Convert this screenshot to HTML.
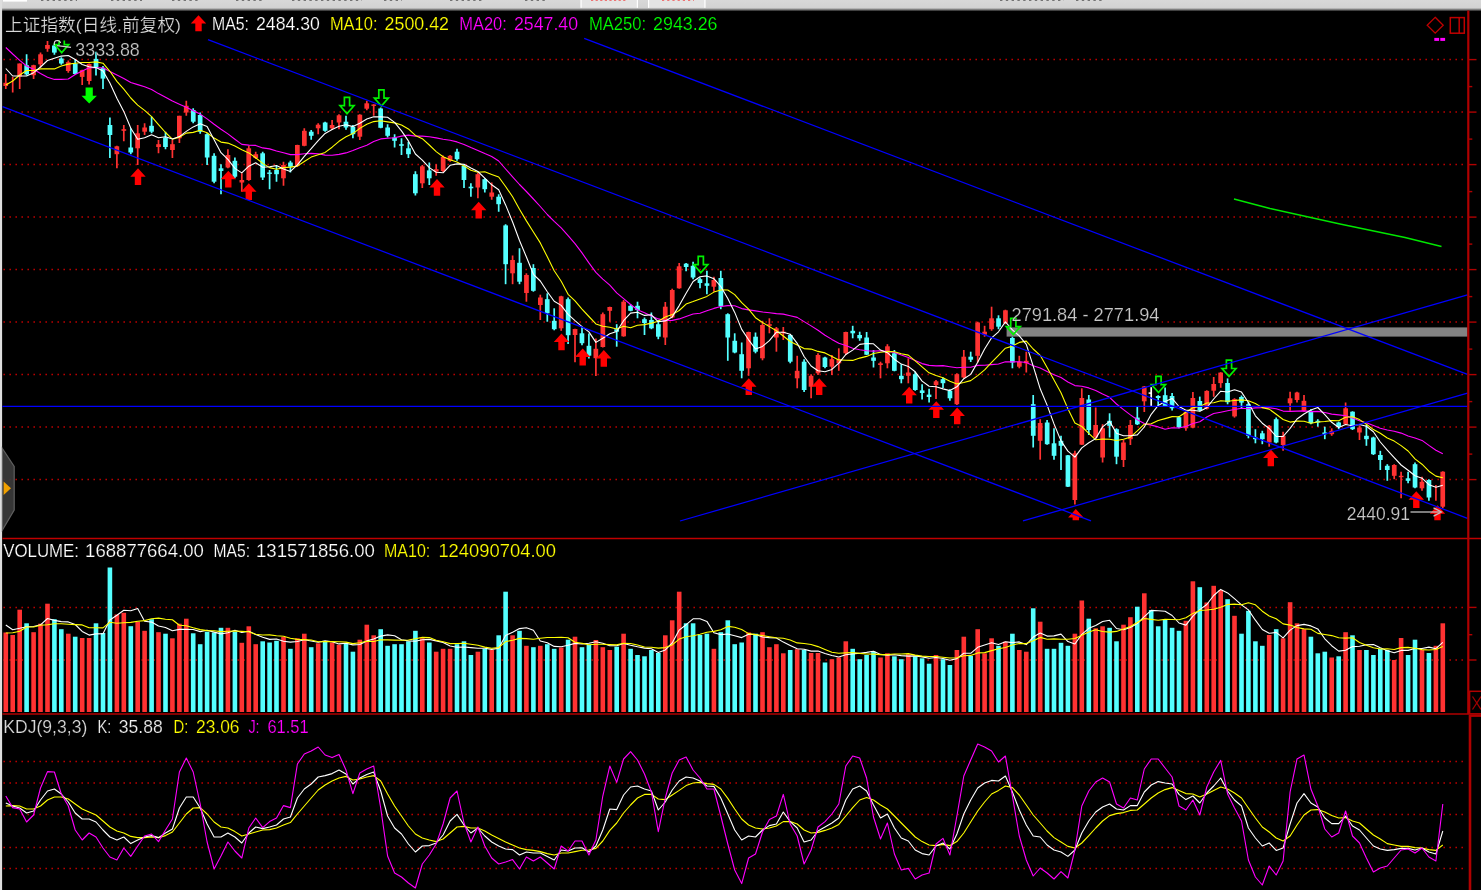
<!DOCTYPE html><html><head><meta charset="utf-8"><title>chart</title><style>html,body{margin:0;padding:0;background:#000;overflow:hidden}svg{display:block}</style></head><body><svg width="1481" height="890" viewBox="0 0 1481 890" style="display:block;will-change:transform;font-family:'Liberation Sans','Noto Sans CJK SC',sans-serif">
<defs><linearGradient id="tg" x1="0" y1="0" x2="0" y2="1"><stop offset="0" stop-color="#d8d8d8"/><stop offset="0.66" stop-color="#d2d2d2"/><stop offset="0.8" stop-color="#7a7a7a"/><stop offset="0.96" stop-color="#000"/></linearGradient>
<clipPath id="mc"><rect x="0" y="40.5" width="1468" height="479.7"/></clipPath></defs>
<rect width="1481" height="890" fill="#000"/>
<rect x="0" y="0" width="1481" height="12" fill="url(#tg)"/>
<rect x="3" y="0" width="24" height="1.6" fill="#fff"/>
<line x1="41" y1="0.3" x2="77" y2="0.3" stroke="#333" stroke-width="1" stroke-dasharray="2.4 3.4" opacity=".75"/>
<line x1="111" y1="0.3" x2="142" y2="0.3" stroke="#333" stroke-width="1" stroke-dasharray="2.4 3.4" opacity=".75"/>
<line x1="172" y1="0.3" x2="198" y2="0.3" stroke="#333" stroke-width="1" stroke-dasharray="2.4 3.4" opacity=".75"/>
<line x1="236" y1="0.3" x2="262" y2="0.3" stroke="#333" stroke-width="1" stroke-dasharray="2.4 3.4" opacity=".75"/>
<line x1="292" y1="0.3" x2="362" y2="0.3" stroke="#333" stroke-width="1" stroke-dasharray="2.4 3.4" opacity=".75"/>
<line x1="384" y1="0.3" x2="402" y2="0.3" stroke="#333" stroke-width="1" stroke-dasharray="2.4 3.4" opacity=".75"/>
<line x1="450" y1="0.3" x2="484" y2="0.3" stroke="#333" stroke-width="1" stroke-dasharray="2.4 3.4" opacity=".75"/>
<line x1="525" y1="0.3" x2="548" y2="0.3" stroke="#333" stroke-width="1" stroke-dasharray="2.4 3.4" opacity=".75"/>
<line x1="1000" y1="0.3" x2="1064" y2="0.3" stroke="#333" stroke-width="1" stroke-dasharray="2.4 3.4" opacity=".75"/>
<line x1="1076" y1="0.3" x2="1102" y2="0.3" stroke="#333" stroke-width="1" stroke-dasharray="2.4 3.4" opacity=".75"/>
<rect x="580.5" y="0" width="57.5" height="7.8" fill="#e4e4e4"/><rect x="648" y="0" width="57.5" height="7.8" fill="#e4e4e4"/>
<rect x="580.5" y="0" width="1.2" height="7.8" fill="#fff"/><rect x="636.8" y="0" width="1.2" height="7.8" fill="#fff"/><rect x="648" y="0" width="1.2" height="7.8" fill="#fff"/><rect x="704.3" y="0" width="1.2" height="7.8" fill="#fff"/>
<line x1="591" y1="0.3" x2="626" y2="0.3" stroke="#f04848" stroke-width="0.9" stroke-dasharray="2.2 2.4"/><line x1="662" y1="0.3" x2="694" y2="0.3" stroke="#f04848" stroke-width="0.9" stroke-dasharray="2.2 3"/>
<rect x="0" y="0" width="2.1" height="890" fill="#dedede"/>
<line x1="3.45" y1="59.6" x2="1464" y2="59.6" stroke="#c40000" stroke-width="1.5" stroke-dasharray="1.5 4.5"/>
<line x1="3.45" y1="112.1" x2="1464" y2="112.1" stroke="#c40000" stroke-width="1.5" stroke-dasharray="1.5 4.5"/>
<line x1="3.45" y1="164.6" x2="1464" y2="164.6" stroke="#c40000" stroke-width="1.5" stroke-dasharray="1.5 4.5"/>
<line x1="3.45" y1="217.1" x2="1464" y2="217.1" stroke="#c40000" stroke-width="1.5" stroke-dasharray="1.5 4.5"/>
<line x1="3.45" y1="269.6" x2="1464" y2="269.6" stroke="#c40000" stroke-width="1.5" stroke-dasharray="1.5 4.5"/>
<line x1="3.45" y1="322.1" x2="1464" y2="322.1" stroke="#c40000" stroke-width="1.5" stroke-dasharray="1.5 4.5"/>
<line x1="3.45" y1="374.6" x2="1464" y2="374.6" stroke="#c40000" stroke-width="1.5" stroke-dasharray="1.5 4.5"/>
<line x1="3.45" y1="427.1" x2="1464" y2="427.1" stroke="#c40000" stroke-width="1.5" stroke-dasharray="1.5 4.5"/>
<line x1="3.45" y1="479.6" x2="1464" y2="479.6" stroke="#c40000" stroke-width="1.5" stroke-dasharray="1.5 4.5"/>
<line x1="3.45" y1="607.4" x2="1464" y2="607.4" stroke="#c40000" stroke-width="1.5" stroke-dasharray="1.5 4.5"/>
<line x1="3.45" y1="660" x2="1464" y2="660" stroke="#c40000" stroke-width="1.5" stroke-dasharray="1.5 4.5"/>
<line x1="3.45" y1="761.6" x2="1464" y2="761.6" stroke="#c40000" stroke-width="1.5" stroke-dasharray="1.5 4.5"/>
<line x1="3.45" y1="783" x2="1464" y2="783" stroke="#c40000" stroke-width="1.5" stroke-dasharray="1.5 4.5"/>
<line x1="3.45" y1="814.6" x2="1464" y2="814.6" stroke="#c40000" stroke-width="1.5" stroke-dasharray="1.5 4.5"/>
<line x1="3.45" y1="847.6" x2="1464" y2="847.6" stroke="#c40000" stroke-width="1.5" stroke-dasharray="1.5 4.5"/>
<line x1="3.45" y1="868.6" x2="1464" y2="868.6" stroke="#c40000" stroke-width="1.5" stroke-dasharray="1.5 4.5"/>
<rect x="1011.5" y="305" width="150" height="19.5" fill="#000"/>
<rect x="1006.6" y="327.4" width="461" height="9.2" fill="#828282"/>
<g clip-path="url(#mc)">
<line x1="5.8" y1="74" x2="5.8" y2="89" stroke="#ff3232" stroke-width="1.7"/>
<rect x="3.4" y="82.8" width="4.7" height="3.2" fill="#ff3232"/>
<line x1="12.7" y1="76.9" x2="12.7" y2="92.4" stroke="#ff3232" stroke-width="1.7"/>
<line x1="19.7" y1="63.5" x2="19.7" y2="89" stroke="#ff3232" stroke-width="1.7"/>
<rect x="17.3" y="63.5" width="4.7" height="13" fill="#ff3232"/>
<line x1="26.6" y1="54.3" x2="26.6" y2="75.6" stroke="#54ffff" stroke-width="1.7"/>
<rect x="24.3" y="65.2" width="4.7" height="9.2" fill="#54ffff"/>
<line x1="33.6" y1="64.8" x2="33.6" y2="79" stroke="#ff3232" stroke-width="1.7"/>
<rect x="31.2" y="65.2" width="4.7" height="10" fill="#ff3232"/>
<line x1="40.5" y1="52.6" x2="40.5" y2="67.7" stroke="#ff3232" stroke-width="1.7"/>
<rect x="38.2" y="54.3" width="4.7" height="10" fill="#ff3232"/>
<line x1="47.5" y1="40.9" x2="47.5" y2="51.8" stroke="#ff3232" stroke-width="1.7"/>
<rect x="45.1" y="45" width="4.7" height="3.8" fill="#ff3232"/>
<line x1="54.4" y1="43.8" x2="54.4" y2="54.7" stroke="#54ffff" stroke-width="1.7"/>
<rect x="52" y="45.5" width="4.7" height="7.1" fill="#54ffff"/>
<line x1="61.3" y1="57.2" x2="61.3" y2="64.8" stroke="#54ffff" stroke-width="1.7"/>
<rect x="59" y="58.5" width="4.7" height="5" fill="#54ffff"/>
<line x1="68.3" y1="60.6" x2="68.3" y2="72.7" stroke="#ff3232" stroke-width="1.7"/>
<rect x="65.9" y="62.2" width="4.7" height="8.8" fill="#ff3232"/>
<line x1="75.2" y1="58.9" x2="75.2" y2="74.4" stroke="#54ffff" stroke-width="1.7"/>
<rect x="72.9" y="63.5" width="4.7" height="10.5" fill="#54ffff"/>
<line x1="82.2" y1="69.8" x2="82.2" y2="84.9" stroke="#ff3232" stroke-width="1.7"/>
<rect x="79.8" y="70.2" width="4.7" height="6.7" fill="#ff3232"/>
<line x1="89.1" y1="63.5" x2="89.1" y2="84.4" stroke="#ff3232" stroke-width="1.7"/>
<rect x="86.8" y="63.9" width="4.7" height="17.1" fill="#ff3232"/>
<line x1="96" y1="51.8" x2="96" y2="75.6" stroke="#54ffff" stroke-width="1.7"/>
<rect x="93.7" y="58.9" width="4.7" height="8.8" fill="#54ffff"/>
<line x1="103" y1="66" x2="103" y2="89" stroke="#54ffff" stroke-width="1.7"/>
<rect x="100.6" y="67.7" width="4.7" height="10.9" fill="#54ffff"/>
<line x1="109.9" y1="117.5" x2="109.9" y2="158" stroke="#54ffff" stroke-width="1.7"/>
<rect x="107.6" y="125" width="4.7" height="10" fill="#54ffff"/>
<line x1="116.9" y1="145.8" x2="116.9" y2="168.3" stroke="#ff3232" stroke-width="1.7"/>
<rect x="114.5" y="146.3" width="4.7" height="7.9" fill="#ff3232"/>
<line x1="123.8" y1="125" x2="123.8" y2="141.3" stroke="#ff3232" stroke-width="1.7"/>
<rect x="121.5" y="129.2" width="4.7" height="1.6" fill="#ff3232"/>
<line x1="130.8" y1="128.3" x2="130.8" y2="154.2" stroke="#54ffff" stroke-width="1.7"/>
<rect x="128.4" y="147.5" width="4.7" height="5" fill="#54ffff"/>
<line x1="137.7" y1="125" x2="137.7" y2="165" stroke="#ff3232" stroke-width="1.7"/>
<rect x="135.3" y="133.3" width="4.7" height="15" fill="#ff3232"/>
<line x1="144.6" y1="123.3" x2="144.6" y2="135" stroke="#ff3232" stroke-width="1.7"/>
<rect x="142.3" y="127.5" width="4.7" height="4.2" fill="#ff3232"/>
<line x1="151.6" y1="116.7" x2="151.6" y2="133.3" stroke="#54ffff" stroke-width="1.7"/>
<rect x="149.2" y="125.8" width="4.7" height="5.9" fill="#54ffff"/>
<line x1="158.5" y1="140" x2="158.5" y2="153.3" stroke="#ff3232" stroke-width="1.7"/>
<rect x="156.2" y="144.2" width="4.7" height="2.8" fill="#ff3232"/>
<line x1="165.5" y1="131.7" x2="165.5" y2="149.2" stroke="#54ffff" stroke-width="1.7"/>
<rect x="163.1" y="137.5" width="4.7" height="9.5" fill="#54ffff"/>
<line x1="172.4" y1="140" x2="172.4" y2="158" stroke="#ff3232" stroke-width="1.7"/>
<rect x="170.1" y="144.2" width="4.7" height="5.8" fill="#ff3232"/>
<line x1="179.4" y1="115.8" x2="179.4" y2="143" stroke="#ff3232" stroke-width="1.7"/>
<rect x="177" y="115.8" width="4.7" height="22.5" fill="#ff3232"/>
<line x1="186.3" y1="100.8" x2="186.3" y2="115.8" stroke="#ff3232" stroke-width="1.7"/>
<rect x="183.9" y="105.8" width="4.7" height="6.7" fill="#ff3232"/>
<line x1="193.2" y1="108.3" x2="193.2" y2="123.3" stroke="#54ffff" stroke-width="1.7"/>
<rect x="190.9" y="110" width="4.7" height="11.7" fill="#54ffff"/>
<line x1="200.2" y1="112.5" x2="200.2" y2="133.7" stroke="#54ffff" stroke-width="1.7"/>
<rect x="197.8" y="115" width="4.7" height="16.7" fill="#54ffff"/>
<line x1="207.1" y1="133.3" x2="207.1" y2="165" stroke="#54ffff" stroke-width="1.7"/>
<rect x="204.8" y="134.2" width="4.7" height="23.3" fill="#54ffff"/>
<line x1="214.1" y1="153.3" x2="214.1" y2="183.3" stroke="#54ffff" stroke-width="1.7"/>
<rect x="211.7" y="155.8" width="4.7" height="25.9" fill="#54ffff"/>
<line x1="221" y1="164.2" x2="221" y2="194.2" stroke="#54ffff" stroke-width="1.7"/>
<rect x="218.7" y="168.3" width="4.7" height="2.7" fill="#54ffff"/>
<line x1="227.9" y1="149.2" x2="227.9" y2="168.3" stroke="#ff3232" stroke-width="1.7"/>
<rect x="225.6" y="155" width="4.7" height="12.5" fill="#ff3232"/>
<line x1="234.9" y1="157.5" x2="234.9" y2="178.3" stroke="#54ffff" stroke-width="1.7"/>
<rect x="232.5" y="160.8" width="4.7" height="15.9" fill="#54ffff"/>
<line x1="241.8" y1="173.3" x2="241.8" y2="191.7" stroke="#ff3232" stroke-width="1.7"/>
<rect x="239.5" y="180" width="4.7" height="2.5" fill="#ff3232"/>
<line x1="248.8" y1="145.8" x2="248.8" y2="180.8" stroke="#ff3232" stroke-width="1.7"/>
<rect x="246.4" y="148.3" width="4.7" height="31.7" fill="#ff3232"/>
<line x1="255.7" y1="151.7" x2="255.7" y2="159" stroke="#ff3232" stroke-width="1.7"/>
<rect x="253.4" y="154.2" width="4.7" height="3.8" fill="#ff3232"/>
<line x1="262.7" y1="151.7" x2="262.7" y2="180" stroke="#54ffff" stroke-width="1.7"/>
<rect x="260.3" y="153.3" width="4.7" height="24.2" fill="#54ffff"/>
<line x1="269.6" y1="170" x2="269.6" y2="189.2" stroke="#54ffff" stroke-width="1.7"/>
<rect x="267.2" y="172.5" width="4.7" height="1.4" fill="#54ffff"/>
<line x1="276.5" y1="165.8" x2="276.5" y2="181.7" stroke="#54ffff" stroke-width="1.7"/>
<rect x="274.2" y="170" width="4.7" height="4.2" fill="#54ffff"/>
<line x1="283.5" y1="161.7" x2="283.5" y2="185.8" stroke="#ff3232" stroke-width="1.7"/>
<rect x="281.1" y="165" width="4.7" height="13.3" fill="#ff3232"/>
<line x1="290.4" y1="160.8" x2="290.4" y2="172.5" stroke="#54ffff" stroke-width="1.7"/>
<rect x="288.1" y="162.5" width="4.7" height="4.2" fill="#54ffff"/>
<line x1="297.4" y1="144.7" x2="297.4" y2="166.7" stroke="#ff3232" stroke-width="1.7"/>
<rect x="295" y="145" width="4.7" height="20.8" fill="#ff3232"/>
<line x1="304.3" y1="128.3" x2="304.3" y2="146.3" stroke="#ff3232" stroke-width="1.7"/>
<rect x="302" y="130.8" width="4.7" height="15" fill="#ff3232"/>
<line x1="311.2" y1="130" x2="311.2" y2="139.7" stroke="#54ffff" stroke-width="1.7"/>
<rect x="308.9" y="131.7" width="4.7" height="4.1" fill="#54ffff"/>
<line x1="318.2" y1="123.3" x2="318.2" y2="134.2" stroke="#ff3232" stroke-width="1.7"/>
<rect x="315.8" y="124.7" width="4.7" height="3.6" fill="#ff3232"/>
<line x1="325.1" y1="121.7" x2="325.1" y2="131.7" stroke="#54ffff" stroke-width="1.7"/>
<rect x="322.8" y="122.5" width="4.7" height="8.3" fill="#54ffff"/>
<line x1="332.1" y1="120" x2="332.1" y2="130" stroke="#ff3232" stroke-width="1.7"/>
<rect x="329.7" y="125" width="4.7" height="3.3" fill="#ff3232"/>
<line x1="339" y1="114.2" x2="339" y2="129.2" stroke="#ff3232" stroke-width="1.7"/>
<rect x="336.7" y="115.3" width="4.7" height="7.2" fill="#ff3232"/>
<line x1="346" y1="115.8" x2="346" y2="129.7" stroke="#54ffff" stroke-width="1.7"/>
<rect x="343.6" y="121.7" width="4.7" height="5.8" fill="#54ffff"/>
<line x1="352.9" y1="125" x2="352.9" y2="138.3" stroke="#54ffff" stroke-width="1.7"/>
<rect x="350.6" y="126.7" width="4.7" height="7.5" fill="#54ffff"/>
<line x1="359.8" y1="114.2" x2="359.8" y2="140" stroke="#ff3232" stroke-width="1.7"/>
<rect x="357.5" y="114.7" width="4.7" height="22" fill="#ff3232"/>
<line x1="366.8" y1="100.8" x2="366.8" y2="110.3" stroke="#ff3232" stroke-width="1.7"/>
<rect x="364.4" y="103.3" width="4.7" height="5.4" fill="#ff3232"/>
<line x1="373.7" y1="104.2" x2="373.7" y2="115.8" stroke="#ff3232" stroke-width="1.7"/>
<rect x="371.4" y="104.5" width="4.7" height="1.4" fill="#ff3232"/>
<line x1="380.7" y1="107.5" x2="380.7" y2="128.3" stroke="#54ffff" stroke-width="1.7"/>
<rect x="378.3" y="108.5" width="4.7" height="19.3" fill="#54ffff"/>
<line x1="387.6" y1="124.2" x2="387.6" y2="137.5" stroke="#54ffff" stroke-width="1.7"/>
<rect x="385.3" y="127.5" width="4.7" height="8.3" fill="#54ffff"/>
<line x1="394.6" y1="134.2" x2="394.6" y2="147.5" stroke="#54ffff" stroke-width="1.7"/>
<rect x="392.2" y="137.5" width="4.7" height="3.3" fill="#54ffff"/>
<line x1="401.5" y1="138.3" x2="401.5" y2="155" stroke="#54ffff" stroke-width="1.7"/>
<rect x="399.1" y="144.2" width="4.7" height="1.6" fill="#54ffff"/>
<line x1="408.4" y1="141.7" x2="408.4" y2="158" stroke="#54ffff" stroke-width="1.7"/>
<rect x="406.1" y="148.3" width="4.7" height="5.9" fill="#54ffff"/>
<line x1="415.4" y1="171.3" x2="415.4" y2="195.5" stroke="#54ffff" stroke-width="1.7"/>
<rect x="413" y="174.2" width="4.7" height="19.1" fill="#54ffff"/>
<line x1="422.3" y1="165" x2="422.3" y2="188" stroke="#ff3232" stroke-width="1.7"/>
<rect x="420" y="166.3" width="4.7" height="17" fill="#ff3232"/>
<line x1="429.3" y1="162.5" x2="429.3" y2="185" stroke="#54ffff" stroke-width="1.7"/>
<rect x="426.9" y="170.4" width="4.7" height="7.9" fill="#54ffff"/>
<line x1="436.2" y1="164.2" x2="436.2" y2="175.8" stroke="#ff3232" stroke-width="1.7"/>
<rect x="433.9" y="169.2" width="4.7" height="2.5" fill="#ff3232"/>
<line x1="443.1" y1="155.4" x2="443.1" y2="172" stroke="#ff3232" stroke-width="1.7"/>
<rect x="440.8" y="157" width="4.7" height="14" fill="#ff3232"/>
<line x1="450.1" y1="155" x2="450.1" y2="161.7" stroke="#ff3232" stroke-width="1.7"/>
<rect x="447.7" y="155.8" width="4.7" height="5" fill="#ff3232"/>
<line x1="457" y1="148.8" x2="457" y2="160.8" stroke="#54ffff" stroke-width="1.7"/>
<rect x="454.7" y="151.7" width="4.7" height="7.5" fill="#54ffff"/>
<line x1="464" y1="164.2" x2="464" y2="188" stroke="#54ffff" stroke-width="1.7"/>
<rect x="461.6" y="165.8" width="4.7" height="14.2" fill="#54ffff"/>
<line x1="470.9" y1="183.3" x2="470.9" y2="196.7" stroke="#54ffff" stroke-width="1.7"/>
<rect x="468.6" y="186.7" width="4.7" height="1.6" fill="#54ffff"/>
<line x1="477.9" y1="173" x2="477.9" y2="198.3" stroke="#ff3232" stroke-width="1.7"/>
<rect x="475.5" y="174.2" width="4.7" height="13.3" fill="#ff3232"/>
<line x1="484.8" y1="178.3" x2="484.8" y2="192.5" stroke="#54ffff" stroke-width="1.7"/>
<rect x="482.4" y="179.2" width="4.7" height="10" fill="#54ffff"/>
<line x1="491.7" y1="182.5" x2="491.7" y2="199.7" stroke="#ff3232" stroke-width="1.7"/>
<rect x="489.4" y="192.5" width="4.7" height="4.2" fill="#ff3232"/>
<line x1="498.7" y1="194.2" x2="498.7" y2="211.7" stroke="#54ffff" stroke-width="1.7"/>
<rect x="496.3" y="196.7" width="4.7" height="7.5" fill="#54ffff"/>
<line x1="505.6" y1="224.2" x2="505.6" y2="284.2" stroke="#54ffff" stroke-width="1.7"/>
<rect x="503.3" y="225.4" width="4.7" height="38.8" fill="#54ffff"/>
<line x1="512.6" y1="255.5" x2="512.6" y2="284.2" stroke="#ff3232" stroke-width="1.7"/>
<rect x="510.2" y="260" width="4.7" height="13.3" fill="#ff3232"/>
<line x1="519.5" y1="248.2" x2="519.5" y2="284.2" stroke="#54ffff" stroke-width="1.7"/>
<rect x="517.2" y="262.8" width="4.7" height="18.9" fill="#54ffff"/>
<line x1="526.4" y1="273.3" x2="526.4" y2="301.7" stroke="#ff3232" stroke-width="1.7"/>
<rect x="524.1" y="275" width="4.7" height="18" fill="#ff3232"/>
<line x1="533.4" y1="264.2" x2="533.4" y2="291.7" stroke="#54ffff" stroke-width="1.7"/>
<rect x="531" y="268" width="4.7" height="22.8" fill="#54ffff"/>
<line x1="540.3" y1="294.7" x2="540.3" y2="320" stroke="#ff3232" stroke-width="1.7"/>
<rect x="538" y="297.5" width="4.7" height="7.5" fill="#ff3232"/>
<line x1="547.3" y1="293.3" x2="547.3" y2="321.7" stroke="#54ffff" stroke-width="1.7"/>
<rect x="544.9" y="299.2" width="4.7" height="14.1" fill="#54ffff"/>
<line x1="554.2" y1="308.3" x2="554.2" y2="330.3" stroke="#54ffff" stroke-width="1.7"/>
<rect x="551.9" y="320.8" width="4.7" height="8.4" fill="#54ffff"/>
<line x1="561.2" y1="295.8" x2="561.2" y2="330.8" stroke="#ff3232" stroke-width="1.7"/>
<rect x="558.8" y="296.3" width="4.7" height="32" fill="#ff3232"/>
<line x1="568.1" y1="297.5" x2="568.1" y2="344" stroke="#54ffff" stroke-width="1.7"/>
<rect x="565.8" y="299.2" width="4.7" height="36" fill="#54ffff"/>
<line x1="575" y1="328.7" x2="575" y2="362.2" stroke="#ff3232" stroke-width="1.7"/>
<rect x="572.7" y="329" width="4.7" height="6" fill="#ff3232"/>
<line x1="582" y1="326.7" x2="582" y2="345.3" stroke="#54ffff" stroke-width="1.7"/>
<rect x="579.6" y="333.3" width="4.7" height="9.9" fill="#54ffff"/>
<line x1="588.9" y1="333.5" x2="588.9" y2="358.5" stroke="#54ffff" stroke-width="1.7"/>
<rect x="586.6" y="345.8" width="4.7" height="9.9" fill="#54ffff"/>
<line x1="595.9" y1="338.5" x2="595.9" y2="376" stroke="#ff3232" stroke-width="1.7"/>
<rect x="593.5" y="348.8" width="4.7" height="9.4" fill="#ff3232"/>
<line x1="602.8" y1="312.5" x2="602.8" y2="347.5" stroke="#ff3232" stroke-width="1.7"/>
<rect x="600.5" y="314.2" width="4.7" height="32.8" fill="#ff3232"/>
<line x1="609.8" y1="306.7" x2="609.8" y2="321.7" stroke="#ff3232" stroke-width="1.7"/>
<rect x="607.4" y="307" width="4.7" height="3.8" fill="#ff3232"/>
<line x1="616.7" y1="324.2" x2="616.7" y2="346.7" stroke="#54ffff" stroke-width="1.7"/>
<rect x="614.3" y="329.2" width="4.7" height="2.5" fill="#54ffff"/>
<line x1="623.6" y1="300" x2="623.6" y2="336.7" stroke="#ff3232" stroke-width="1.7"/>
<rect x="621.3" y="301.7" width="4.7" height="34.6" fill="#ff3232"/>
<line x1="630.6" y1="304.2" x2="630.6" y2="311.3" stroke="#54ffff" stroke-width="1.7"/>
<rect x="628.2" y="305.8" width="4.7" height="5" fill="#54ffff"/>
<line x1="637.5" y1="301.7" x2="637.5" y2="318.3" stroke="#54ffff" stroke-width="1.7"/>
<rect x="635.2" y="305.8" width="4.7" height="4.2" fill="#54ffff"/>
<line x1="644.5" y1="317.5" x2="644.5" y2="335" stroke="#54ffff" stroke-width="1.7"/>
<rect x="642.1" y="319.2" width="4.7" height="3.8" fill="#54ffff"/>
<line x1="651.4" y1="312.5" x2="651.4" y2="329.2" stroke="#54ffff" stroke-width="1.7"/>
<rect x="649.1" y="320" width="4.7" height="8.3" fill="#54ffff"/>
<line x1="658.3" y1="320" x2="658.3" y2="339.2" stroke="#54ffff" stroke-width="1.7"/>
<rect x="656" y="324.2" width="4.7" height="12.5" fill="#54ffff"/>
<line x1="665.3" y1="302" x2="665.3" y2="345" stroke="#ff3232" stroke-width="1.7"/>
<rect x="662.9" y="306.7" width="4.7" height="30.8" fill="#ff3232"/>
<line x1="672.2" y1="288.7" x2="672.2" y2="318.3" stroke="#ff3232" stroke-width="1.7"/>
<rect x="669.9" y="290" width="4.7" height="27.5" fill="#ff3232"/>
<line x1="679.2" y1="263" x2="679.2" y2="288.7" stroke="#ff3232" stroke-width="1.7"/>
<rect x="676.8" y="266.3" width="4.7" height="22" fill="#ff3232"/>
<line x1="686.1" y1="263" x2="686.1" y2="271.3" stroke="#54ffff" stroke-width="1.7"/>
<rect x="683.8" y="263.7" width="4.7" height="3.3" fill="#54ffff"/>
<line x1="693.1" y1="261.7" x2="693.1" y2="279.2" stroke="#54ffff" stroke-width="1.7"/>
<rect x="690.7" y="265.8" width="4.7" height="11.7" fill="#54ffff"/>
<line x1="700" y1="277.5" x2="700" y2="288.3" stroke="#54ffff" stroke-width="1.7"/>
<rect x="697.6" y="279.2" width="4.7" height="3.8" fill="#54ffff"/>
<line x1="706.9" y1="270.8" x2="706.9" y2="294.2" stroke="#54ffff" stroke-width="1.7"/>
<rect x="704.6" y="283.3" width="4.7" height="2.5" fill="#54ffff"/>
<line x1="713.9" y1="276.7" x2="713.9" y2="291.7" stroke="#ff3232" stroke-width="1.7"/>
<rect x="711.5" y="280" width="4.7" height="6.7" fill="#ff3232"/>
<line x1="720.8" y1="270.8" x2="720.8" y2="309.2" stroke="#54ffff" stroke-width="1.7"/>
<rect x="718.5" y="278" width="4.7" height="28.3" fill="#54ffff"/>
<line x1="727.8" y1="313.3" x2="727.8" y2="360.8" stroke="#54ffff" stroke-width="1.7"/>
<rect x="725.4" y="314.2" width="4.7" height="23.3" fill="#54ffff"/>
<line x1="734.7" y1="333.3" x2="734.7" y2="353.3" stroke="#54ffff" stroke-width="1.7"/>
<rect x="732.4" y="340.8" width="4.7" height="11.7" fill="#54ffff"/>
<line x1="741.7" y1="342.5" x2="741.7" y2="378.3" stroke="#54ffff" stroke-width="1.7"/>
<rect x="739.3" y="354.2" width="4.7" height="16.6" fill="#54ffff"/>
<line x1="748.6" y1="331.7" x2="748.6" y2="375.8" stroke="#ff3232" stroke-width="1.7"/>
<rect x="746.2" y="332" width="4.7" height="36.3" fill="#ff3232"/>
<line x1="755.5" y1="332.5" x2="755.5" y2="353.3" stroke="#54ffff" stroke-width="1.7"/>
<rect x="753.2" y="336.7" width="4.7" height="15" fill="#54ffff"/>
<line x1="762.5" y1="320.8" x2="762.5" y2="360.3" stroke="#ff3232" stroke-width="1.7"/>
<rect x="760.1" y="325" width="4.7" height="33.3" fill="#ff3232"/>
<line x1="769.4" y1="318.3" x2="769.4" y2="333.3" stroke="#ff3232" stroke-width="1.7"/>
<rect x="767.1" y="324.2" width="4.7" height="1.6" fill="#ff3232"/>
<line x1="776.4" y1="327" x2="776.4" y2="351.7" stroke="#ff3232" stroke-width="1.7"/>
<rect x="774" y="328.3" width="4.7" height="9.2" fill="#ff3232"/>
<line x1="783.3" y1="327" x2="783.3" y2="340" stroke="#ff3232" stroke-width="1.7"/>
<rect x="781" y="331.7" width="4.7" height="1.6" fill="#ff3232"/>
<line x1="790.2" y1="334.2" x2="790.2" y2="363.3" stroke="#54ffff" stroke-width="1.7"/>
<rect x="787.9" y="335" width="4.7" height="26.7" fill="#54ffff"/>
<line x1="797.2" y1="355.8" x2="797.2" y2="388.3" stroke="#ff3232" stroke-width="1.7"/>
<rect x="794.8" y="370.8" width="4.7" height="7.5" fill="#ff3232"/>
<line x1="804.1" y1="359.2" x2="804.1" y2="392" stroke="#54ffff" stroke-width="1.7"/>
<rect x="801.8" y="361.7" width="4.7" height="28.3" fill="#54ffff"/>
<line x1="811.1" y1="374.2" x2="811.1" y2="398.3" stroke="#ff3232" stroke-width="1.7"/>
<rect x="808.7" y="375.8" width="4.7" height="10.9" fill="#ff3232"/>
<line x1="818" y1="353.3" x2="818" y2="375" stroke="#ff3232" stroke-width="1.7"/>
<rect x="815.7" y="355" width="4.7" height="18.3" fill="#ff3232"/>
<line x1="825" y1="356.7" x2="825" y2="368.3" stroke="#54ffff" stroke-width="1.7"/>
<rect x="822.6" y="357.5" width="4.7" height="9.5" fill="#54ffff"/>
<line x1="831.9" y1="355" x2="831.9" y2="375" stroke="#ff3232" stroke-width="1.7"/>
<rect x="829.5" y="359.2" width="4.7" height="7.5" fill="#ff3232"/>
<line x1="838.8" y1="348.3" x2="838.8" y2="370.8" stroke="#ff3232" stroke-width="1.7"/>
<rect x="836.5" y="359.2" width="4.7" height="4.1" fill="#ff3232"/>
<line x1="845.8" y1="331.7" x2="845.8" y2="355" stroke="#ff3232" stroke-width="1.7"/>
<rect x="843.4" y="332" width="4.7" height="21.3" fill="#ff3232"/>
<line x1="852.7" y1="325.8" x2="852.7" y2="338.3" stroke="#54ffff" stroke-width="1.7"/>
<rect x="850.4" y="330.8" width="4.7" height="2.5" fill="#54ffff"/>
<line x1="859.7" y1="331.7" x2="859.7" y2="340.8" stroke="#54ffff" stroke-width="1.7"/>
<rect x="857.3" y="335" width="4.7" height="3.3" fill="#54ffff"/>
<line x1="866.6" y1="332" x2="866.6" y2="355" stroke="#54ffff" stroke-width="1.7"/>
<rect x="864.3" y="337.5" width="4.7" height="17.2" fill="#54ffff"/>
<line x1="873.5" y1="350" x2="873.5" y2="367.5" stroke="#54ffff" stroke-width="1.7"/>
<rect x="871.2" y="357.5" width="4.7" height="3.3" fill="#54ffff"/>
<line x1="880.5" y1="361.7" x2="880.5" y2="378.3" stroke="#ff3232" stroke-width="1.7"/>
<rect x="878.1" y="363.3" width="4.7" height="1.7" fill="#ff3232"/>
<line x1="887.4" y1="344.2" x2="887.4" y2="368.3" stroke="#ff3232" stroke-width="1.7"/>
<rect x="885.1" y="346.3" width="4.7" height="17" fill="#ff3232"/>
<line x1="894.4" y1="350" x2="894.4" y2="371.3" stroke="#54ffff" stroke-width="1.7"/>
<rect x="892" y="353.3" width="4.7" height="17.5" fill="#54ffff"/>
<line x1="901.3" y1="364.2" x2="901.3" y2="383.3" stroke="#54ffff" stroke-width="1.7"/>
<rect x="899" y="375.8" width="4.7" height="3.4" fill="#54ffff"/>
<line x1="908.3" y1="358.3" x2="908.3" y2="383.3" stroke="#ff3232" stroke-width="1.7"/>
<rect x="905.9" y="372.5" width="4.7" height="3.3" fill="#ff3232"/>
<line x1="915.2" y1="371.7" x2="915.2" y2="390.8" stroke="#54ffff" stroke-width="1.7"/>
<rect x="912.9" y="374.2" width="4.7" height="15.8" fill="#54ffff"/>
<line x1="922.1" y1="384.2" x2="922.1" y2="399.6" stroke="#54ffff" stroke-width="1.7"/>
<rect x="919.8" y="390.4" width="4.7" height="2.6" fill="#54ffff"/>
<line x1="929.1" y1="388.8" x2="929.1" y2="402.5" stroke="#54ffff" stroke-width="1.7"/>
<rect x="926.7" y="394.6" width="4.7" height="2.4" fill="#54ffff"/>
<line x1="936" y1="380" x2="936" y2="399" stroke="#ff3232" stroke-width="1.7"/>
<rect x="933.7" y="381.3" width="4.7" height="3.7" fill="#ff3232"/>
<line x1="943" y1="377.5" x2="943" y2="388" stroke="#54ffff" stroke-width="1.7"/>
<rect x="940.6" y="379.2" width="4.7" height="4" fill="#54ffff"/>
<line x1="949.9" y1="389.2" x2="949.9" y2="400.8" stroke="#54ffff" stroke-width="1.7"/>
<rect x="947.6" y="390.8" width="4.7" height="7.5" fill="#54ffff"/>
<line x1="956.9" y1="373.3" x2="956.9" y2="405" stroke="#ff3232" stroke-width="1.7"/>
<rect x="954.5" y="374.2" width="4.7" height="30" fill="#ff3232"/>
<line x1="963.8" y1="350" x2="963.8" y2="378.3" stroke="#ff3232" stroke-width="1.7"/>
<rect x="961.4" y="356.7" width="4.7" height="20.8" fill="#ff3232"/>
<line x1="970.7" y1="351.7" x2="970.7" y2="362" stroke="#54ffff" stroke-width="1.7"/>
<rect x="968.4" y="356.7" width="4.7" height="3" fill="#54ffff"/>
<line x1="977.7" y1="321.7" x2="977.7" y2="362.5" stroke="#ff3232" stroke-width="1.7"/>
<rect x="975.3" y="322.5" width="4.7" height="33.3" fill="#ff3232"/>
<line x1="984.6" y1="325.8" x2="984.6" y2="336.7" stroke="#ff3232" stroke-width="1.7"/>
<rect x="982.3" y="331.7" width="4.7" height="3" fill="#ff3232"/>
<line x1="991.6" y1="306.7" x2="991.6" y2="330.8" stroke="#ff3232" stroke-width="1.7"/>
<rect x="989.2" y="318.3" width="4.7" height="10.9" fill="#ff3232"/>
<line x1="998.5" y1="315.3" x2="998.5" y2="329.2" stroke="#54ffff" stroke-width="1.7"/>
<rect x="996.2" y="318.3" width="4.7" height="8.4" fill="#54ffff"/>
<line x1="1005.4" y1="309.7" x2="1005.4" y2="324.2" stroke="#ff3232" stroke-width="1.7"/>
<rect x="1003.1" y="310.3" width="4.7" height="13" fill="#ff3232"/>
<line x1="1012.4" y1="336.7" x2="1012.4" y2="368.3" stroke="#54ffff" stroke-width="1.7"/>
<rect x="1010" y="338" width="4.7" height="24.5" fill="#54ffff"/>
<line x1="1019.3" y1="355.8" x2="1019.3" y2="368.3" stroke="#ff3232" stroke-width="1.7"/>
<rect x="1017" y="361.7" width="4.7" height="5" fill="#ff3232"/>
<line x1="1026.3" y1="351.7" x2="1026.3" y2="372.5" stroke="#ff3232" stroke-width="1.7"/>
<rect x="1023.9" y="360.8" width="4.7" height="2.5" fill="#ff3232"/>
<line x1="1033.2" y1="395" x2="1033.2" y2="447.5" stroke="#54ffff" stroke-width="1.7"/>
<rect x="1030.9" y="404.2" width="4.7" height="31.6" fill="#54ffff"/>
<line x1="1040.2" y1="419.2" x2="1040.2" y2="459.7" stroke="#ff3232" stroke-width="1.7"/>
<rect x="1037.8" y="423" width="4.7" height="17.8" fill="#ff3232"/>
<line x1="1047.1" y1="420" x2="1047.1" y2="444.7" stroke="#54ffff" stroke-width="1.7"/>
<rect x="1044.8" y="422.5" width="4.7" height="21.7" fill="#54ffff"/>
<line x1="1054" y1="428.3" x2="1054" y2="459.7" stroke="#54ffff" stroke-width="1.7"/>
<rect x="1051.7" y="443.3" width="4.7" height="12.5" fill="#54ffff"/>
<line x1="1061" y1="435.8" x2="1061" y2="470" stroke="#54ffff" stroke-width="1.7"/>
<rect x="1058.6" y="440.8" width="4.7" height="5" fill="#54ffff"/>
<line x1="1067.9" y1="455" x2="1067.9" y2="487" stroke="#54ffff" stroke-width="1.7"/>
<rect x="1065.6" y="455.3" width="4.7" height="31.4" fill="#54ffff"/>
<line x1="1074.9" y1="450.8" x2="1074.9" y2="504.5" stroke="#ff3232" stroke-width="1.7"/>
<rect x="1072.5" y="453.3" width="4.7" height="46.7" fill="#ff3232"/>
<line x1="1081.8" y1="388.3" x2="1081.8" y2="445" stroke="#ff3232" stroke-width="1.7"/>
<rect x="1079.5" y="398" width="4.7" height="46.7" fill="#ff3232"/>
<line x1="1088.8" y1="395" x2="1088.8" y2="435" stroke="#54ffff" stroke-width="1.7"/>
<rect x="1086.4" y="399.5" width="4.7" height="30.5" fill="#54ffff"/>
<line x1="1095.7" y1="407.5" x2="1095.7" y2="438.3" stroke="#ff3232" stroke-width="1.7"/>
<rect x="1093.3" y="425" width="4.7" height="12.5" fill="#ff3232"/>
<line x1="1102.6" y1="424.2" x2="1102.6" y2="462.5" stroke="#ff3232" stroke-width="1.7"/>
<rect x="1100.3" y="428.3" width="4.7" height="29.2" fill="#ff3232"/>
<line x1="1109.6" y1="413.3" x2="1109.6" y2="437.5" stroke="#54ffff" stroke-width="1.7"/>
<rect x="1107.2" y="420.8" width="4.7" height="5" fill="#54ffff"/>
<line x1="1116.5" y1="428.3" x2="1116.5" y2="464.2" stroke="#54ffff" stroke-width="1.7"/>
<rect x="1114.2" y="429.2" width="4.7" height="27.5" fill="#54ffff"/>
<line x1="1123.5" y1="440" x2="1123.5" y2="467" stroke="#ff3232" stroke-width="1.7"/>
<rect x="1121.1" y="442.5" width="4.7" height="17.5" fill="#ff3232"/>
<line x1="1130.4" y1="420" x2="1130.4" y2="445" stroke="#ff3232" stroke-width="1.7"/>
<rect x="1128.1" y="425" width="4.7" height="14.2" fill="#ff3232"/>
<line x1="1137.3" y1="406.8" x2="1137.3" y2="425" stroke="#54ffff" stroke-width="1.7"/>
<rect x="1135" y="417.6" width="4.7" height="6.7" fill="#54ffff"/>
<line x1="1144.3" y1="386" x2="1144.3" y2="412" stroke="#ff3232" stroke-width="1.7"/>
<rect x="1141.9" y="386.5" width="4.7" height="14.8" fill="#ff3232"/>
<line x1="1151.2" y1="387.2" x2="1151.2" y2="406" stroke="#fff" stroke-width="1.7"/>
<line x1="1148.6" y1="393.1" x2="1151.2" y2="393.1" stroke="#fff" stroke-width="1.5"/>
<line x1="1158.2" y1="395.2" x2="1158.2" y2="407" stroke="#54ffff" stroke-width="1.7"/>
<rect x="1155.8" y="396" width="4.7" height="2" fill="#54ffff"/>
<line x1="1165.1" y1="387.4" x2="1165.1" y2="406.6" stroke="#54ffff" stroke-width="1.7"/>
<rect x="1162.8" y="395.2" width="4.7" height="10.8" fill="#54ffff"/>
<line x1="1172.1" y1="393" x2="1172.1" y2="410.5" stroke="#54ffff" stroke-width="1.7"/>
<rect x="1169.7" y="396" width="4.7" height="12.3" fill="#54ffff"/>
<line x1="1179" y1="416" x2="1179" y2="428.3" stroke="#54ffff" stroke-width="1.7"/>
<rect x="1176.6" y="417.2" width="4.7" height="10.2" fill="#54ffff"/>
<line x1="1185.9" y1="410.5" x2="1185.9" y2="430.8" stroke="#ff3232" stroke-width="1.7"/>
<rect x="1183.6" y="411.8" width="4.7" height="16.5" fill="#ff3232"/>
<line x1="1192.9" y1="392" x2="1192.9" y2="428.3" stroke="#ff3232" stroke-width="1.7"/>
<rect x="1190.5" y="398" width="4.7" height="29.7" fill="#ff3232"/>
<line x1="1199.8" y1="396.6" x2="1199.8" y2="411.4" stroke="#54ffff" stroke-width="1.7"/>
<rect x="1197.5" y="401" width="4.7" height="9.5" fill="#54ffff"/>
<line x1="1206.8" y1="390.3" x2="1206.8" y2="409.5" stroke="#ff3232" stroke-width="1.7"/>
<rect x="1204.4" y="390.9" width="4.7" height="17.8" fill="#ff3232"/>
<line x1="1213.7" y1="377" x2="1213.7" y2="396.8" stroke="#ff3232" stroke-width="1.7"/>
<rect x="1211.4" y="384" width="4.7" height="6.7" fill="#ff3232"/>
<line x1="1220.7" y1="372.2" x2="1220.7" y2="387.8" stroke="#ff3232" stroke-width="1.7"/>
<rect x="1218.3" y="372.6" width="4.7" height="10.5" fill="#ff3232"/>
<line x1="1227.6" y1="378.4" x2="1227.6" y2="404.3" stroke="#54ffff" stroke-width="1.7"/>
<rect x="1225.2" y="383" width="4.7" height="19.2" fill="#54ffff"/>
<line x1="1234.5" y1="398.2" x2="1234.5" y2="417.6" stroke="#ff3232" stroke-width="1.7"/>
<rect x="1232.2" y="399.1" width="4.7" height="17.3" fill="#ff3232"/>
<line x1="1241.5" y1="395.5" x2="1241.5" y2="409" stroke="#54ffff" stroke-width="1.7"/>
<rect x="1239.1" y="397" width="4.7" height="5.6" fill="#54ffff"/>
<line x1="1248.4" y1="401.7" x2="1248.4" y2="438.3" stroke="#54ffff" stroke-width="1.7"/>
<rect x="1246.1" y="404.2" width="4.7" height="31.6" fill="#54ffff"/>
<line x1="1255.4" y1="429.2" x2="1255.4" y2="443.3" stroke="#54ffff" stroke-width="1.7"/>
<rect x="1253" y="437.5" width="4.7" height="1.7" fill="#54ffff"/>
<line x1="1262.3" y1="430.8" x2="1262.3" y2="444.2" stroke="#54ffff" stroke-width="1.7"/>
<rect x="1260" y="433.3" width="4.7" height="5.9" fill="#54ffff"/>
<line x1="1269.2" y1="425" x2="1269.2" y2="446.7" stroke="#ff3232" stroke-width="1.7"/>
<rect x="1266.9" y="425.8" width="4.7" height="16.7" fill="#ff3232"/>
<line x1="1276.2" y1="417.5" x2="1276.2" y2="443.3" stroke="#54ffff" stroke-width="1.7"/>
<rect x="1273.8" y="419.2" width="4.7" height="23.3" fill="#54ffff"/>
<line x1="1283.1" y1="431.7" x2="1283.1" y2="450.8" stroke="#ff3232" stroke-width="1.7"/>
<rect x="1280.8" y="435.8" width="4.7" height="9.2" fill="#ff3232"/>
<line x1="1290.1" y1="391.7" x2="1290.1" y2="410.8" stroke="#ff3232" stroke-width="1.7"/>
<rect x="1287.7" y="398.3" width="4.7" height="5" fill="#ff3232"/>
<line x1="1297" y1="391.7" x2="1297" y2="402.5" stroke="#ff3232" stroke-width="1.7"/>
<rect x="1294.7" y="392.5" width="4.7" height="7.5" fill="#ff3232"/>
<line x1="1304" y1="395" x2="1304" y2="411.7" stroke="#ff3232" stroke-width="1.7"/>
<rect x="1301.6" y="400.8" width="4.7" height="10" fill="#ff3232"/>
<line x1="1310.9" y1="409.2" x2="1310.9" y2="424.2" stroke="#54ffff" stroke-width="1.7"/>
<rect x="1308.5" y="410.8" width="4.7" height="12.5" fill="#54ffff"/>
<line x1="1317.8" y1="419.2" x2="1317.8" y2="426.7" stroke="#54ffff" stroke-width="1.7"/>
<rect x="1315.5" y="420.8" width="4.7" height="1.7" fill="#54ffff"/>
<line x1="1324.8" y1="426.7" x2="1324.8" y2="439.2" stroke="#54ffff" stroke-width="1.7"/>
<rect x="1322.4" y="432.5" width="4.7" height="1.7" fill="#54ffff"/>
<line x1="1331.7" y1="428.3" x2="1331.7" y2="435.8" stroke="#ff3232" stroke-width="1.7"/>
<rect x="1329.4" y="430.8" width="4.7" height="3.4" fill="#ff3232"/>
<line x1="1338.7" y1="421.7" x2="1338.7" y2="429.2" stroke="#54ffff" stroke-width="1.7"/>
<rect x="1336.3" y="422.5" width="4.7" height="4.2" fill="#54ffff"/>
<line x1="1345.6" y1="402.5" x2="1345.6" y2="425" stroke="#ff3232" stroke-width="1.7"/>
<rect x="1343.3" y="408.3" width="4.7" height="15.9" fill="#ff3232"/>
<line x1="1352.5" y1="411.3" x2="1352.5" y2="430" stroke="#54ffff" stroke-width="1.7"/>
<rect x="1350.2" y="411.7" width="4.7" height="17.5" fill="#54ffff"/>
<line x1="1359.5" y1="425.8" x2="1359.5" y2="440" stroke="#ff3232" stroke-width="1.7"/>
<rect x="1357.1" y="427.5" width="4.7" height="5" fill="#ff3232"/>
<line x1="1366.4" y1="425" x2="1366.4" y2="445.8" stroke="#54ffff" stroke-width="1.7"/>
<rect x="1364.1" y="435.8" width="4.7" height="3.4" fill="#54ffff"/>
<line x1="1373.4" y1="436.7" x2="1373.4" y2="455" stroke="#54ffff" stroke-width="1.7"/>
<rect x="1371" y="437.5" width="4.7" height="16.7" fill="#54ffff"/>
<line x1="1380.3" y1="450.8" x2="1380.3" y2="470" stroke="#54ffff" stroke-width="1.7"/>
<rect x="1378" y="455" width="4.7" height="5" fill="#54ffff"/>
<line x1="1387.3" y1="464.2" x2="1387.3" y2="480.8" stroke="#54ffff" stroke-width="1.7"/>
<rect x="1384.9" y="465.8" width="4.7" height="4.2" fill="#54ffff"/>
<line x1="1394.2" y1="464.2" x2="1394.2" y2="479.2" stroke="#ff3232" stroke-width="1.7"/>
<rect x="1391.9" y="465" width="4.7" height="10.8" fill="#ff3232"/>
<line x1="1401.1" y1="471.7" x2="1401.1" y2="498.3" stroke="#ff3232" stroke-width="1.7"/>
<rect x="1398.8" y="475.8" width="4.7" height="1.4" fill="#ff3232"/>
<line x1="1408.1" y1="471.7" x2="1408.1" y2="483.3" stroke="#54ffff" stroke-width="1.7"/>
<rect x="1405.7" y="478.3" width="4.7" height="2.5" fill="#54ffff"/>
<line x1="1415" y1="462.5" x2="1415" y2="488.3" stroke="#54ffff" stroke-width="1.7"/>
<rect x="1412.7" y="464.2" width="4.7" height="23.3" fill="#54ffff"/>
<line x1="1422" y1="476.7" x2="1422" y2="490.8" stroke="#ff3232" stroke-width="1.7"/>
<rect x="1419.6" y="481.7" width="4.7" height="6.6" fill="#ff3232"/>
<line x1="1428.9" y1="479.2" x2="1428.9" y2="500.8" stroke="#54ffff" stroke-width="1.7"/>
<rect x="1426.6" y="480" width="4.7" height="17.5" fill="#54ffff"/>
<line x1="1435.9" y1="485" x2="1435.9" y2="500.8" stroke="#ff3232" stroke-width="1.7"/>
<line x1="1442.8" y1="471.3" x2="1442.8" y2="508.3" stroke="#ff3232" stroke-width="1.7"/>
<rect x="1440.4" y="471.7" width="4.7" height="35" fill="#ff3232"/>
</g>
<g clip-path="url(#mc)">
<polyline points="5.8,47.5 12.7,54 19.7,60.3 26.6,66 33.6,69.3 40.5,73.5 47.5,77.2 54.4,79.4 61.3,79.4 68.3,79 75.2,74.5 82.2,71 89.1,67.7 96,67.7 103,67.7 109.9,71.5 116.9,75 123.8,78.5 130.8,82.5 137.7,84.6 144.6,86.8 151.6,89.5 158.5,93.6 165.5,97.2 172.4,101.1 179.4,104.2 186.3,107.3 193.2,110.7 200.2,114.1 207.1,118.9 214.1,124.3 221,129.3 227.9,133.9 234.9,139.3 241.8,144.4 248.8,145.1 255.7,145.4 262.7,147.9 269.6,148.9 276.5,151 283.5,152.8 290.4,154.6 297.4,154.6 304.3,153.8 311.2,153.4 318.2,153.8 325.1,155.1 332.1,155.3 339,154.4 346,152.9 352.9,150.6 359.8,147.8 366.8,145.2 373.7,141.6 380.7,138.9 387.6,138.3 394.6,137.7 401.5,136.1 408.4,135.1 415.4,136.1 422.3,136.1 429.3,136.7 436.2,137.9 443.1,139.2 450.1,140.2 457,141.9 464,144.4 470.9,147.6 477.9,150.5 484.8,153.6 491.7,156.5 498.7,161 505.6,169 512.6,176.8 519.5,184.5 526.4,191.5 533.4,199 540.3,206.5 547.3,214.5 554.2,221.3 561.2,227.8 568.1,235.6 575,243.6 582,252.9 588.9,262.9 595.9,272.4 602.8,279.1 609.8,285.1 616.7,292.9 623.6,298.6 630.6,304.5 637.5,309.8 644.5,312.7 651.4,316.1 658.3,318.9 665.3,320.5 672.2,320.4 679.2,318.9 686.1,316.5 693.1,314 700,313.3 706.9,310.8 713.9,308.4 720.8,306.5 727.8,305.6 734.7,305.8 741.7,308.6 748.6,309.9 755.5,310.9 762.5,312 769.4,312.7 776.4,313.6 783.3,314.1 790.2,315.7 797.2,317.4 804.1,321.6 811.1,325.9 818,330.3 825,335.3 831.9,339.4 838.8,343.2 845.8,345.5 852.7,348.2 859.7,349.8 866.6,350.7 873.5,351.1 880.5,350.7 887.4,351.4 894.4,352.4 901.3,355.1 908.3,357.5 915.2,360.6 922.1,363.6 929.1,365.4 936,365.9 943,365.6 949.9,366.7 956.9,367.7 963.8,367.2 970.7,367.2 977.7,365.4 984.6,365.3 991.6,364.6 998.5,364 1005.4,361.8 1012.4,361.9 1019.3,361.8 1026.3,362.5 1033.2,365.8 1040.2,368 1047.1,371.5 1054,374.8 1061,377.5 1067.9,382 1074.9,385.6 1081.8,386.3 1088.8,387.9 1095.7,390.4 1102.6,394 1109.6,397.3 1116.5,404 1123.5,409.6 1130.4,414.9 1137.3,419.8 1144.3,423.6 1151.2,425.1 1158.2,426.9 1165.1,429.2 1172.1,427.8 1179,428 1185.9,426.4 1192.9,423.5 1199.8,421.8 1206.8,417 1213.7,413.5 1220.7,412.2 1227.6,410.8 1234.5,409.5 1241.5,408.3 1248.4,408.8 1255.4,407.9 1262.3,407.7 1269.2,407.8 1276.2,408.7 1283.1,411.1 1290.1,411.4 1297,411.1 1304,410.9 1310.9,411.6 1317.8,411.4 1324.8,412.5 1331.7,414.1 1338.7,414.9 1345.6,415.8 1352.5,418.1 1359.5,420.8 1366.4,422.7 1373.4,425.4 1380.3,428.3 1387.3,430 1394.2,431.3 1401.1,433.1 1408.1,435.9 1415,438.1 1422,440.4 1428.9,445.4 1435.9,450.2 1442.8,453.7" fill="none" stroke="#ff00ff" stroke-width="1.1" stroke-linejoin="round" />
<polyline points="5.8,85 12.7,81 19.7,75 26.6,70.5 33.6,70.5 40.5,68.9 47.5,68.9 54.4,68.9 61.3,66 68.3,64.1 75.2,63.2 82.2,62.5 89.1,62.5 96,61.9 103,63.2 109.9,71.3 116.9,81.4 123.8,89.1 130.8,98 137.7,105.1 144.6,110.4 151.6,116.6 158.5,124.6 165.5,132.5 172.4,139.1 179.4,137.2 186.3,133.1 193.2,132.4 200.2,130.3 207.1,132.7 214.1,138.1 221,142.1 227.9,143.1 234.9,146.1 241.8,149.7 248.8,152.9 255.7,157.8 262.7,163.4 269.6,167.6 276.5,169.2 283.5,167.6 290.4,167.1 297.4,166.1 304.3,161.5 311.2,157.1 318.2,154.8 325.1,152.4 332.1,147.2 339,141.3 346,136.7 352.9,133.6 359.8,128.4 366.8,124.2 373.7,121.6 380.7,120.8 387.6,121.9 394.6,122.9 401.5,125 408.4,128.9 415.4,135.4 422.3,138.7 429.3,145 436.2,151.6 443.1,156.8 450.1,159.7 457,162 464,165.9 470.9,170.2 477.9,172.2 484.8,171.8 491.7,174.4 498.7,177 505.6,186.5 512.6,196.8 519.5,209.3 526.4,220.9 533.4,232 540.3,242.9 547.3,256.8 554.2,270.8 561.2,281.2 568.1,294.3 575,300.8 582,309.1 588.9,316.5 595.9,323.9 602.8,326.2 609.8,327.2 616.7,329 623.6,326.3 630.6,327.7 637.5,325.2 644.5,324.6 651.4,323.1 658.3,321.2 665.3,317 672.2,314.6 679.2,310.5 686.1,304.1 693.1,301.6 700,298.9 706.9,296.4 713.9,292.1 720.8,289.9 727.8,290 734.7,294.6 741.7,302.7 748.6,309.2 755.5,317.7 762.5,322.5 769.4,326.6 776.4,330.8 783.3,336 790.2,341.5 797.2,344.9 804.1,348.6 811.1,349.1 818,351.4 825,352.9 831.9,356.4 838.8,359.9 845.8,360.2 852.7,360.4 859.7,358.1 866.6,356.4 873.5,353.5 880.5,352.3 887.4,351.4 894.4,351.8 901.3,353.8 908.3,355.1 915.2,360.9 922.1,366.9 929.1,372.8 936,375.4 943,377.7 949.9,381.2 956.9,383.9 963.8,382.5 970.7,380.6 977.7,375.6 984.6,369.8 991.6,362.3 998.5,355.3 1005.4,348.2 1012.4,346.1 1019.3,342.4 1026.3,341.1 1033.2,349 1040.2,355.3 1047.1,367.5 1054,379.9 1061,392.7 1067.9,408.7 1074.9,423 1081.8,426.5 1088.8,433.3 1095.7,439.8 1102.6,439 1109.6,439.3 1116.5,440.5 1123.5,439.2 1130.4,437.1 1137.3,430.9 1144.3,424.2 1151.2,423.7 1158.2,420.5 1165.1,418.6 1172.1,416.6 1179,416.8 1185.9,412.3 1192.9,407.8 1199.8,406.4 1206.8,403 1213.7,402.8 1220.7,400.8 1227.6,401.2 1234.5,400.5 1241.5,399.9 1248.4,400.8 1255.4,403.5 1262.3,407.6 1269.2,409.1 1276.2,414.3 1283.1,419.5 1290.1,422.1 1297,421.1 1304,421.2 1310.9,423.3 1317.8,422 1324.8,421.5 1331.7,420.6 1338.7,420.7 1345.6,417.3 1352.5,416.7 1359.5,419.6 1366.4,424.2 1373.4,429.6 1380.3,433.3 1387.3,438 1394.2,441.1 1401.1,445.6 1408.1,451 1415,458.9 1422,464.2 1428.9,471.2 1435.9,476.1 1442.8,477.8" fill="none" stroke="#ffff00" stroke-width="1.1" stroke-linejoin="round" />
<polyline points="5.8,68.5 12.7,76 19.7,76 26.6,76 33.6,72.7 40.5,67 47.5,60.5 54.4,58.3 61.3,56.1 68.3,55.5 75.2,59.5 82.2,64.5 89.1,66.8 96,67.6 103,70.9 109.9,83.1 116.9,98.3 123.8,111.4 130.8,128.3 137.7,139.3 144.6,137.8 151.6,134.8 158.5,137.8 165.5,136.7 172.4,138.9 179.4,136.6 186.3,131.4 193.2,126.9 200.2,123.8 207.1,126.5 214.1,139.7 221,152.7 227.9,159.4 234.9,168.4 241.8,172.9 248.8,166.2 255.7,162.8 262.7,167.3 269.6,166.7 276.5,165.6 283.5,168.9 290.4,171.4 297.4,164.9 304.3,156.3 311.2,148.7 318.2,140.6 325.1,133.4 332.1,129.4 339,126.3 346,124.7 352.9,126.6 359.8,123.3 366.8,119 373.7,116.8 380.7,116.9 387.6,117.2 394.6,122.4 401.5,130.9 408.4,140.9 415.4,154 422.3,160.1 429.3,167.6 436.2,172.3 443.1,172.8 450.1,165.3 457,163.9 464,164.2 470.9,168.1 477.9,171.5 484.8,178.2 491.7,184.8 498.7,189.7 505.6,204.9 512.6,222 519.5,240.5 526.4,257 533.4,274.3 540.3,281 547.3,291.7 554.2,301.2 561.2,305.4 568.1,314.3 575,320.6 582,326.6 588.9,331.9 595.9,342.4 602.8,338.2 609.8,333.8 616.7,331.5 623.6,320.7 630.6,313.1 637.5,312.2 644.5,315.4 651.4,314.8 658.3,321.8 665.3,320.9 672.2,316.9 679.2,305.6 686.1,293.3 693.1,281.5 700,276.8 706.9,275.9 713.9,278.7 720.8,286.5 727.8,298.5 734.7,312.4 741.7,329.4 748.6,339.8 755.5,348.9 762.5,346.4 769.4,340.7 776.4,332.2 783.3,332.2 790.2,334.2 797.2,343.3 804.1,356.5 811.1,366 818,370.7 825,371.7 831.9,369.4 838.8,363.2 845.8,354.5 852.7,350.1 859.7,344.4 866.6,343.5 873.5,343.8 880.5,350.1 887.4,352.7 894.4,359.2 901.3,364.1 908.3,366.4 915.2,371.8 922.1,381.1 929.1,386.3 936,386.8 943,388.9 949.9,390.6 956.9,386.8 963.8,378.7 970.7,374.4 977.7,362.3 984.6,349 991.6,337.8 998.5,331.8 1005.4,321.9 1012.4,329.9 1019.3,335.9 1026.3,344.4 1033.2,366.2 1040.2,388.8 1047.1,405.1 1054,423.9 1061,440.9 1067.9,451.1 1074.9,457.2 1081.8,447.9 1088.8,442.8 1095.7,438.6 1102.6,426.9 1109.6,421.4 1116.5,433.2 1123.5,435.7 1130.4,435.7 1137.3,434.9 1144.3,427 1151.2,414.3 1158.2,405.4 1165.1,401.6 1172.1,398.4 1179,406.5 1185.9,410.3 1192.9,410.3 1199.8,411.2 1206.8,407.7 1213.7,399 1220.7,391.2 1227.6,392 1234.5,389.8 1241.5,392.1 1248.4,402.5 1255.4,415.8 1262.3,423.2 1269.2,428.5 1276.2,436.5 1283.1,436.5 1290.1,428.3 1297,419 1304,414 1310.9,410.1 1317.8,407.5 1324.8,414.7 1331.7,422.3 1338.7,427.5 1345.6,424.5 1352.5,425.8 1359.5,424.5 1366.4,426.2 1373.4,431.7 1380.3,442 1387.3,450.2 1394.2,457.7 1401.1,465 1408.1,470.3 1415,475.8 1422,478.2 1428.9,484.7 1435.9,487.2 1442.8,485.3" fill="none" stroke="#ffffff" stroke-width="1.1" stroke-linejoin="round" />
</g>
<polyline points="1234,199 1270,208.5 1340,224 1405,237.5 1441.5,246.5" fill="none" stroke="#00e800" stroke-width="1.3"/>
<g clip-path="url(#mc)">
<path d="M138 168.3 L145.7 176.8 L141.2 176.8 L141.2 185.1 L134.8 185.1 L134.8 176.8 L130.3 176.8 Z" fill="#ff0000"/>
<path d="M228.3 170.8 L236 179.3 L231.5 179.3 L231.5 187.6 L225.1 187.6 L225.1 179.3 L220.6 179.3 Z" fill="#ff0000"/>
<path d="M248.8 183.3 L256.5 191.8 L252 191.8 L252 200.1 L245.6 200.1 L245.6 191.8 L241.1 191.8 Z" fill="#ff0000"/>
<path d="M437 179 L444.7 187.5 L440.2 187.5 L440.2 195.8 L433.8 195.8 L433.8 187.5 L429.3 187.5 Z" fill="#ff0000"/>
<path d="M478.7 201.7 L486.4 210.2 L481.9 210.2 L481.9 218.5 L475.5 218.5 L475.5 210.2 L471 210.2 Z" fill="#ff0000"/>
<path d="M561.5 333.4 L569.2 341.9 L564.7 341.9 L564.7 350.2 L558.3 350.2 L558.3 341.9 L553.8 341.9 Z" fill="#ff0000"/>
<path d="M582.7 348.6 L590.4 357.1 L585.9 357.1 L585.9 365.4 L579.5 365.4 L579.5 357.1 L575 357.1 Z" fill="#ff0000"/>
<path d="M603.8 350 L611.5 358.5 L607 358.5 L607 366.8 L600.6 366.8 L600.6 358.5 L596.1 358.5 Z" fill="#ff0000"/>
<path d="M748.8 378.3 L756.5 386.8 L752 386.8 L752 395.1 L745.6 395.1 L745.6 386.8 L741.1 386.8 Z" fill="#ff0000"/>
<path d="M819.2 378.3 L826.9 386.8 L822.4 386.8 L822.4 395.1 L816 395.1 L816 386.8 L811.5 386.8 Z" fill="#ff0000"/>
<path d="M909.2 386.7 L916.9 395.2 L912.4 395.2 L912.4 403.5 L906 403.5 L906 395.2 L901.5 395.2 Z" fill="#ff0000"/>
<path d="M936.3 401.2 L944 409.7 L939.5 409.7 L939.5 418 L933.1 418 L933.1 409.7 L928.6 409.7 Z" fill="#ff0000"/>
<path d="M957.2 407.5 L964.9 416 L960.4 416 L960.4 424.3 L954 424.3 L954 416 L949.5 416 Z" fill="#ff0000"/>
<path d="M1075.8 509 L1083.5 517.5 L1079 517.5 L1079 525.8 L1072.6 525.8 L1072.6 517.5 L1068.1 517.5 Z" fill="#ff0000"/>
<path d="M1270.8 449.5 L1278.5 458 L1274 458 L1274 466.3 L1267.6 466.3 L1267.6 458 L1263.1 458 Z" fill="#ff0000"/>
<path d="M1416.3 491.2 L1424 499.7 L1419.5 499.7 L1419.5 508 L1413.1 508 L1413.1 499.7 L1408.6 499.7 Z" fill="#ff0000"/>
<path d="M1437.5 505.2 L1445.2 513.7 L1440.7 513.7 L1440.7 522 L1434.3 522 L1434.3 513.7 L1429.8 513.7 Z" fill="#ff0000"/>
<path d="M59.1 36.4 L64.3 36.4 L64.3 44.7 L68.7 44.7 L61.7 52.6 L54.7 44.7 L59.1 44.7 Z" fill="none" stroke="#00f000" stroke-width="1.7" stroke-linejoin="miter"/>
<path d="M344.4 97.4 L349.6 97.4 L349.6 105.7 L354 105.7 L347 113.6 L340 105.7 L344.4 105.7 Z" fill="none" stroke="#00f000" stroke-width="1.7" stroke-linejoin="miter"/>
<path d="M378.8 89.8 L384 89.8 L384 98.1 L388.4 98.1 L381.4 106 L374.4 98.1 L378.8 98.1 Z" fill="none" stroke="#00f000" stroke-width="1.7" stroke-linejoin="miter"/>
<path d="M698.2 256.4 L703.4 256.4 L703.4 264.7 L707.8 264.7 L700.8 272.6 L693.8 264.7 L698.2 264.7 Z" fill="none" stroke="#00f000" stroke-width="1.7" stroke-linejoin="miter"/>
<path d="M1010.7 318.3 L1015.9 318.3 L1015.9 326.6 L1020.3 326.6 L1013.3 334.5 L1006.3 326.6 L1010.7 326.6 Z" fill="none" stroke="#00f000" stroke-width="1.7" stroke-linejoin="miter"/>
<path d="M1155.9 376.3 L1161.1 376.3 L1161.1 384.6 L1165.5 384.6 L1158.5 392.5 L1151.5 384.6 L1155.9 384.6 Z" fill="none" stroke="#00f000" stroke-width="1.7" stroke-linejoin="miter"/>
<path d="M1226.4 360.2 L1231.6 360.2 L1231.6 368.5 L1236 368.5 L1229 376.4 L1222 368.5 L1226.4 368.5 Z" fill="none" stroke="#00f000" stroke-width="1.7" stroke-linejoin="miter"/>
<path d="M85.6 87.4 L92.8 87.4 L92.8 95.7 L96.9 95.7 L89.2 103.6 L81.5 95.7 L85.6 95.7 Z" fill="#00ff00"/>
</g>
<line x1="584.2" y1="38.3" x2="1467.5" y2="374.4" stroke="#0000ff" stroke-width="1.25"/>
<line x1="208" y1="39.6" x2="1467.5" y2="518.3" stroke="#0000ff" stroke-width="1.25"/>
<line x1="2.5" y1="106.7" x2="1091" y2="520.8" stroke="#0000ff" stroke-width="1.25"/>
<line x1="2.4" y1="406.4" x2="1467.5" y2="406.4" stroke="#0000ff" stroke-width="1.25"/>
<line x1="680" y1="521" x2="1467.5" y2="294.8" stroke="#0000ff" stroke-width="1.25"/>
<line x1="1023" y1="520.9" x2="1467.5" y2="393.2" stroke="#0000ff" stroke-width="1.25"/>
<path d="M54.5 45 Q53.5 40.5 57.5 40.5 Q60 40.6 60.5 43" fill="none" stroke="#ddd" stroke-width="1.2"/>
<line x1="57" y1="45.6" x2="71" y2="47.4" stroke="#ccc" stroke-width="1.1"/>
<text x="75.3" y="55.8" fill="#c8c8c8" font-size="18.2" textLength="64.5" lengthAdjust="spacingAndGlyphs" stroke="#000" stroke-width="0.2" >3333.88</text>
<text x="1011.5" y="321.4" fill="#c8c8c8" font-size="18.2" textLength="148" lengthAdjust="spacingAndGlyphs" stroke="#000" stroke-width="0.2" >2791.84 - 2771.94</text>
<text x="1346.8" y="519.6" fill="#c8c8c8" font-size="18.2" textLength="63.2" lengthAdjust="spacingAndGlyphs" stroke="#000" stroke-width="0.2" >2440.91</text>
<line x1="1410.5" y1="512" x2="1440" y2="512" stroke="#c0c0c0" stroke-width="1.3"/>
<path d="M1433.5 507.8 L1441.5 512 L1433.5 516.2" fill="none" stroke="#c0c0c0" stroke-width="1.3"/>
<text x="5" y="30.6" fill="#d8d8d8" font-size="17.2" textLength="176" lengthAdjust="spacingAndGlyphs" stroke="#000" stroke-width="0.2" >上证指数(日线.前复权)</text>
<path d="M198.5 15.2 L206.2 23.4 L201.7 23.4 L201.7 31.2 L195.3 31.2 L195.3 23.4 L190.8 23.4 Z" fill="#ff0000"/>
<text x="212" y="30.4" fill="#ffffff" font-size="18.2" textLength="36.9" lengthAdjust="spacingAndGlyphs" stroke="#000" stroke-width="0.2" >MA5:</text>
<text x="256" y="30.4" fill="#ffffff" font-size="18.2" textLength="63.8" lengthAdjust="spacingAndGlyphs" stroke="#000" stroke-width="0.2" >2484.30</text>
<text x="329.9" y="30.4" fill="#ffff00" font-size="18.2" textLength="47.6" lengthAdjust="spacingAndGlyphs" stroke="#000" stroke-width="0.2" >MA10:</text>
<text x="384.6" y="30.4" fill="#ffff00" font-size="18.2" textLength="64.4" lengthAdjust="spacingAndGlyphs" stroke="#000" stroke-width="0.2" >2500.42</text>
<text x="459.2" y="30.4" fill="#ff00ff" font-size="18.2" textLength="47.6" lengthAdjust="spacingAndGlyphs" stroke="#000" stroke-width="0.2" >MA20:</text>
<text x="513.9" y="30.4" fill="#ff00ff" font-size="18.2" textLength="64.2" lengthAdjust="spacingAndGlyphs" stroke="#000" stroke-width="0.2" >2547.40</text>
<text x="588.9" y="30.4" fill="#00ff00" font-size="18.2" textLength="57.3" lengthAdjust="spacingAndGlyphs" stroke="#000" stroke-width="0.2" >MA250:</text>
<text x="653.1" y="30.4" fill="#00ff00" font-size="18.2" textLength="64.4" lengthAdjust="spacingAndGlyphs" stroke="#000" stroke-width="0.2" >2943.26</text>
<path d="M1435.2 17.3 L1443.2 25.2 L1435.2 33.1 L1427.2 25.2 Z" fill="none" stroke="#c00000" stroke-width="1.3"/>
<rect x="1450.3" y="17.6" width="14" height="15.6" fill="none" stroke="#c00000" stroke-width="1.5"/><line x1="1459.2" y1="17.6" x2="1459.2" y2="33.2" stroke="#c00000" stroke-width="1.5"/>
<rect x="1434.3" y="37.9" width="4.8" height="3" fill="#ff00ff"/><rect x="1440.3" y="37.9" width="4.8" height="3" fill="#ff00ff"/>
<line x1="2.4" y1="538.4" x2="1481" y2="538.4" stroke="#c00000" stroke-width="1.5"/>
<line x1="2.4" y1="714" x2="1469" y2="714" stroke="#b00000" stroke-width="1.5"/>
<line x1="1468.3" y1="10.5" x2="1468.3" y2="714" stroke="#b00000" stroke-width="2.2"/>
<line x1="1468" y1="59.6" x2="1476.5" y2="59.6" stroke="#b00000" stroke-width="1.4"/>
<line x1="1468" y1="86.6" x2="1472.3" y2="86.6" stroke="#b00000" stroke-width="1.4"/>
<line x1="1468" y1="112.1" x2="1476.5" y2="112.1" stroke="#b00000" stroke-width="1.4"/>
<line x1="1468" y1="139.1" x2="1472.3" y2="139.1" stroke="#b00000" stroke-width="1.4"/>
<line x1="1468" y1="164.6" x2="1476.5" y2="164.6" stroke="#b00000" stroke-width="1.4"/>
<line x1="1468" y1="191.6" x2="1472.3" y2="191.6" stroke="#b00000" stroke-width="1.4"/>
<line x1="1468" y1="217.1" x2="1476.5" y2="217.1" stroke="#b00000" stroke-width="1.4"/>
<line x1="1468" y1="244.1" x2="1472.3" y2="244.1" stroke="#b00000" stroke-width="1.4"/>
<line x1="1468" y1="269.6" x2="1476.5" y2="269.6" stroke="#b00000" stroke-width="1.4"/>
<line x1="1468" y1="296.6" x2="1472.3" y2="296.6" stroke="#b00000" stroke-width="1.4"/>
<line x1="1468" y1="322.1" x2="1476.5" y2="322.1" stroke="#b00000" stroke-width="1.4"/>
<line x1="1468" y1="349.1" x2="1472.3" y2="349.1" stroke="#b00000" stroke-width="1.4"/>
<line x1="1468" y1="374.6" x2="1476.5" y2="374.6" stroke="#b00000" stroke-width="1.4"/>
<line x1="1468" y1="401.6" x2="1472.3" y2="401.6" stroke="#b00000" stroke-width="1.4"/>
<line x1="1468" y1="427.1" x2="1476.5" y2="427.1" stroke="#b00000" stroke-width="1.4"/>
<line x1="1468" y1="454.1" x2="1472.3" y2="454.1" stroke="#b00000" stroke-width="1.4"/>
<line x1="1468" y1="479.6" x2="1476.5" y2="479.6" stroke="#b00000" stroke-width="1.4"/>
<line x1="1468" y1="607.4" x2="1476.5" y2="607.4" stroke="#b00000" stroke-width="1.4"/>
<line x1="1468" y1="660" x2="1476.5" y2="660" stroke="#b00000" stroke-width="1.4"/>
<line x1="1468" y1="634.7" x2="1472.3" y2="634.7" stroke="#b00000" stroke-width="1.4"/>
<rect x="1469.6" y="691.3" width="14" height="22.5" fill="none" stroke="#b00000" stroke-width="1.5"/>
<path d="M1472.5 696.5 L1481 709.5 M1481 696.5 L1472.5 709.5" stroke="#a00000" stroke-width="1.3" fill="none"/>
<rect x="1470" y="715.6" width="14" height="180" fill="none" stroke="#b00000" stroke-width="2.6"/>
<rect x="3.5" y="632.5" width="4.6" height="79.5" fill="#ff3232"/>
<rect x="10.4" y="635" width="4.6" height="77" fill="#ff3232"/>
<rect x="17.4" y="609.7" width="4.6" height="102.3" fill="#ff3232"/>
<rect x="24.3" y="623.3" width="4.6" height="88.7" fill="#54ffff"/>
<rect x="31.3" y="632.2" width="4.6" height="79.8" fill="#ff3232"/>
<rect x="38.2" y="623.7" width="4.6" height="88.3" fill="#ff3232"/>
<rect x="45.2" y="603.7" width="4.6" height="108.3" fill="#ff3232"/>
<rect x="52.1" y="619.2" width="4.6" height="92.8" fill="#54ffff"/>
<rect x="59" y="629.2" width="4.6" height="82.8" fill="#54ffff"/>
<rect x="66" y="633.7" width="4.6" height="78.3" fill="#ff3232"/>
<rect x="72.9" y="636.7" width="4.6" height="75.3" fill="#54ffff"/>
<rect x="79.9" y="638" width="4.6" height="74" fill="#ff3232"/>
<rect x="86.8" y="638" width="4.6" height="74" fill="#ff3232"/>
<rect x="93.7" y="623.3" width="4.6" height="88.7" fill="#54ffff"/>
<rect x="100.7" y="633" width="4.6" height="79" fill="#54ffff"/>
<rect x="107.6" y="567.5" width="4.6" height="144.5" fill="#54ffff"/>
<rect x="114.6" y="614.5" width="4.6" height="97.5" fill="#ff3232"/>
<rect x="121.5" y="612.8" width="4.6" height="99.2" fill="#ff3232"/>
<rect x="128.5" y="626.2" width="4.6" height="85.8" fill="#54ffff"/>
<rect x="135.4" y="621.7" width="4.6" height="90.3" fill="#ff3232"/>
<rect x="142.3" y="630.8" width="4.6" height="81.2" fill="#ff3232"/>
<rect x="149.3" y="619.2" width="4.6" height="92.8" fill="#54ffff"/>
<rect x="156.2" y="632.2" width="4.6" height="79.8" fill="#ff3232"/>
<rect x="163.2" y="633.7" width="4.6" height="78.3" fill="#54ffff"/>
<rect x="170.1" y="638.3" width="4.6" height="73.7" fill="#ff3232"/>
<rect x="177.1" y="623.7" width="4.6" height="88.3" fill="#ff3232"/>
<rect x="184" y="618.7" width="4.6" height="93.3" fill="#ff3232"/>
<rect x="190.9" y="633.3" width="4.6" height="78.7" fill="#54ffff"/>
<rect x="197.9" y="644.2" width="4.6" height="67.8" fill="#54ffff"/>
<rect x="204.8" y="631.7" width="4.6" height="80.3" fill="#54ffff"/>
<rect x="211.8" y="632.5" width="4.6" height="79.5" fill="#54ffff"/>
<rect x="218.7" y="627.8" width="4.6" height="84.2" fill="#54ffff"/>
<rect x="225.6" y="627.8" width="4.6" height="84.2" fill="#ff3232"/>
<rect x="232.6" y="631.7" width="4.6" height="80.3" fill="#54ffff"/>
<rect x="239.5" y="642.8" width="4.6" height="69.2" fill="#ff3232"/>
<rect x="246.5" y="626.3" width="4.6" height="85.7" fill="#ff3232"/>
<rect x="253.4" y="644.2" width="4.6" height="67.8" fill="#ff3232"/>
<rect x="260.4" y="641.3" width="4.6" height="70.7" fill="#54ffff"/>
<rect x="267.3" y="642.5" width="4.6" height="69.5" fill="#54ffff"/>
<rect x="274.2" y="640.8" width="4.6" height="71.2" fill="#54ffff"/>
<rect x="281.2" y="637" width="4.6" height="75" fill="#ff3232"/>
<rect x="288.1" y="648.8" width="4.6" height="63.2" fill="#54ffff"/>
<rect x="295.1" y="638.3" width="4.6" height="73.7" fill="#ff3232"/>
<rect x="302" y="633.7" width="4.6" height="78.3" fill="#ff3232"/>
<rect x="308.9" y="647.2" width="4.6" height="64.8" fill="#54ffff"/>
<rect x="315.9" y="643.3" width="4.6" height="68.7" fill="#ff3232"/>
<rect x="322.8" y="642" width="4.6" height="70" fill="#54ffff"/>
<rect x="329.8" y="642.5" width="4.6" height="69.5" fill="#ff3232"/>
<rect x="336.7" y="644.7" width="4.6" height="67.3" fill="#ff3232"/>
<rect x="343.7" y="643.7" width="4.6" height="68.3" fill="#54ffff"/>
<rect x="350.6" y="651.7" width="4.6" height="60.3" fill="#54ffff"/>
<rect x="357.5" y="639.7" width="4.6" height="72.3" fill="#ff3232"/>
<rect x="364.5" y="624.7" width="4.6" height="87.3" fill="#ff3232"/>
<rect x="371.4" y="635.3" width="4.6" height="76.7" fill="#ff3232"/>
<rect x="378.4" y="629.2" width="4.6" height="82.8" fill="#54ffff"/>
<rect x="385.3" y="645.8" width="4.6" height="66.2" fill="#54ffff"/>
<rect x="392.3" y="644.2" width="4.6" height="67.8" fill="#54ffff"/>
<rect x="399.2" y="644.2" width="4.6" height="67.8" fill="#54ffff"/>
<rect x="406.1" y="641.3" width="4.6" height="70.7" fill="#54ffff"/>
<rect x="413.1" y="630.8" width="4.6" height="81.2" fill="#54ffff"/>
<rect x="420" y="638.3" width="4.6" height="73.7" fill="#ff3232"/>
<rect x="427" y="642.5" width="4.6" height="69.5" fill="#54ffff"/>
<rect x="433.9" y="651.7" width="4.6" height="60.3" fill="#ff3232"/>
<rect x="440.8" y="648.8" width="4.6" height="63.2" fill="#ff3232"/>
<rect x="447.8" y="648.8" width="4.6" height="63.2" fill="#ff3232"/>
<rect x="454.7" y="644.2" width="4.6" height="67.8" fill="#54ffff"/>
<rect x="461.7" y="641.3" width="4.6" height="70.7" fill="#54ffff"/>
<rect x="468.6" y="655" width="4.6" height="57" fill="#54ffff"/>
<rect x="475.6" y="651.7" width="4.6" height="60.3" fill="#ff3232"/>
<rect x="482.5" y="648.8" width="4.6" height="63.2" fill="#54ffff"/>
<rect x="489.4" y="650" width="4.6" height="62" fill="#ff3232"/>
<rect x="496.4" y="635.3" width="4.6" height="76.7" fill="#54ffff"/>
<rect x="503.3" y="591.7" width="4.6" height="120.3" fill="#54ffff"/>
<rect x="510.3" y="635.3" width="4.6" height="76.7" fill="#ff3232"/>
<rect x="517.2" y="630.8" width="4.6" height="81.2" fill="#54ffff"/>
<rect x="524.1" y="645.8" width="4.6" height="66.2" fill="#ff3232"/>
<rect x="531.1" y="647.2" width="4.6" height="64.8" fill="#54ffff"/>
<rect x="538" y="645.8" width="4.6" height="66.2" fill="#ff3232"/>
<rect x="545" y="644.2" width="4.6" height="67.8" fill="#54ffff"/>
<rect x="551.9" y="648.8" width="4.6" height="63.2" fill="#54ffff"/>
<rect x="558.9" y="647.5" width="4.6" height="64.5" fill="#ff3232"/>
<rect x="565.8" y="639.7" width="4.6" height="72.3" fill="#54ffff"/>
<rect x="572.7" y="636.7" width="4.6" height="75.3" fill="#ff3232"/>
<rect x="579.7" y="647.2" width="4.6" height="64.8" fill="#54ffff"/>
<rect x="586.6" y="644.7" width="4.6" height="67.3" fill="#54ffff"/>
<rect x="593.6" y="640" width="4.6" height="72" fill="#ff3232"/>
<rect x="600.5" y="647.2" width="4.6" height="64.8" fill="#ff3232"/>
<rect x="607.5" y="650" width="4.6" height="62" fill="#ff3232"/>
<rect x="614.4" y="646.7" width="4.6" height="65.3" fill="#54ffff"/>
<rect x="621.3" y="633.7" width="4.6" height="78.3" fill="#ff3232"/>
<rect x="628.3" y="648.8" width="4.6" height="63.2" fill="#54ffff"/>
<rect x="635.2" y="655" width="4.6" height="57" fill="#54ffff"/>
<rect x="642.2" y="656.3" width="4.6" height="55.7" fill="#54ffff"/>
<rect x="649.1" y="650" width="4.6" height="62" fill="#54ffff"/>
<rect x="656" y="653" width="4.6" height="59" fill="#54ffff"/>
<rect x="663" y="635.3" width="4.6" height="76.7" fill="#ff3232"/>
<rect x="669.9" y="620.3" width="4.6" height="91.7" fill="#ff3232"/>
<rect x="676.9" y="591.7" width="4.6" height="120.3" fill="#ff3232"/>
<rect x="683.8" y="623.3" width="4.6" height="88.7" fill="#54ffff"/>
<rect x="690.8" y="623.3" width="4.6" height="88.7" fill="#54ffff"/>
<rect x="697.7" y="635" width="4.6" height="77" fill="#54ffff"/>
<rect x="704.6" y="633.7" width="4.6" height="78.3" fill="#54ffff"/>
<rect x="711.6" y="648.8" width="4.6" height="63.2" fill="#ff3232"/>
<rect x="718.5" y="632.2" width="4.6" height="79.8" fill="#54ffff"/>
<rect x="725.5" y="620.3" width="4.6" height="91.7" fill="#54ffff"/>
<rect x="732.4" y="644.2" width="4.6" height="67.8" fill="#54ffff"/>
<rect x="739.4" y="642.5" width="4.6" height="69.5" fill="#54ffff"/>
<rect x="746.3" y="632.5" width="4.6" height="79.5" fill="#ff3232"/>
<rect x="753.2" y="633.7" width="4.6" height="78.3" fill="#54ffff"/>
<rect x="760.2" y="632.2" width="4.6" height="79.8" fill="#ff3232"/>
<rect x="767.1" y="647.2" width="4.6" height="64.8" fill="#ff3232"/>
<rect x="774.1" y="644.2" width="4.6" height="67.8" fill="#ff3232"/>
<rect x="781" y="653.3" width="4.6" height="58.7" fill="#ff3232"/>
<rect x="787.9" y="650" width="4.6" height="62" fill="#54ffff"/>
<rect x="794.9" y="649.2" width="4.6" height="62.8" fill="#ff3232"/>
<rect x="801.8" y="650" width="4.6" height="62" fill="#54ffff"/>
<rect x="808.8" y="653" width="4.6" height="59" fill="#ff3232"/>
<rect x="815.7" y="653" width="4.6" height="59" fill="#ff3232"/>
<rect x="822.7" y="662.5" width="4.6" height="49.5" fill="#54ffff"/>
<rect x="829.6" y="659.2" width="4.6" height="52.8" fill="#ff3232"/>
<rect x="836.5" y="657.5" width="4.6" height="54.5" fill="#ff3232"/>
<rect x="843.5" y="641.3" width="4.6" height="70.7" fill="#ff3232"/>
<rect x="850.4" y="648.8" width="4.6" height="63.2" fill="#54ffff"/>
<rect x="857.4" y="659.2" width="4.6" height="52.8" fill="#54ffff"/>
<rect x="864.3" y="655" width="4.6" height="57" fill="#54ffff"/>
<rect x="871.2" y="651.7" width="4.6" height="60.3" fill="#54ffff"/>
<rect x="878.2" y="657.5" width="4.6" height="54.5" fill="#ff3232"/>
<rect x="885.1" y="653.3" width="4.6" height="58.7" fill="#ff3232"/>
<rect x="892.1" y="656.3" width="4.6" height="55.7" fill="#54ffff"/>
<rect x="899" y="659.2" width="4.6" height="52.8" fill="#54ffff"/>
<rect x="906" y="654.2" width="4.6" height="57.8" fill="#ff3232"/>
<rect x="912.9" y="656.3" width="4.6" height="55.7" fill="#54ffff"/>
<rect x="919.8" y="658.3" width="4.6" height="53.7" fill="#54ffff"/>
<rect x="926.8" y="663.7" width="4.6" height="48.3" fill="#54ffff"/>
<rect x="933.7" y="655" width="4.6" height="57" fill="#ff3232"/>
<rect x="940.7" y="659.2" width="4.6" height="52.8" fill="#54ffff"/>
<rect x="947.6" y="665" width="4.6" height="47" fill="#54ffff"/>
<rect x="954.6" y="650" width="4.6" height="62" fill="#ff3232"/>
<rect x="961.5" y="636.7" width="4.6" height="75.3" fill="#ff3232"/>
<rect x="968.4" y="655.8" width="4.6" height="56.2" fill="#54ffff"/>
<rect x="975.4" y="629.2" width="4.6" height="82.8" fill="#ff3232"/>
<rect x="982.3" y="653.3" width="4.6" height="58.7" fill="#ff3232"/>
<rect x="989.3" y="638.3" width="4.6" height="73.7" fill="#ff3232"/>
<rect x="996.2" y="645.8" width="4.6" height="66.2" fill="#54ffff"/>
<rect x="1003.1" y="641.7" width="4.6" height="70.3" fill="#ff3232"/>
<rect x="1010.1" y="633.7" width="4.6" height="78.3" fill="#54ffff"/>
<rect x="1017" y="650" width="4.6" height="62" fill="#ff3232"/>
<rect x="1024" y="651.7" width="4.6" height="60.3" fill="#ff3232"/>
<rect x="1030.9" y="608.3" width="4.6" height="103.7" fill="#54ffff"/>
<rect x="1037.9" y="621.7" width="4.6" height="90.3" fill="#ff3232"/>
<rect x="1044.8" y="648.8" width="4.6" height="63.2" fill="#54ffff"/>
<rect x="1051.7" y="648.8" width="4.6" height="63.2" fill="#54ffff"/>
<rect x="1058.7" y="642.8" width="4.6" height="69.2" fill="#54ffff"/>
<rect x="1065.6" y="645.8" width="4.6" height="66.2" fill="#54ffff"/>
<rect x="1072.6" y="633.7" width="4.6" height="78.3" fill="#ff3232"/>
<rect x="1079.5" y="600.5" width="4.6" height="111.5" fill="#ff3232"/>
<rect x="1086.5" y="618.7" width="4.6" height="93.3" fill="#54ffff"/>
<rect x="1093.4" y="628.3" width="4.6" height="83.7" fill="#ff3232"/>
<rect x="1100.3" y="626.3" width="4.6" height="85.7" fill="#ff3232"/>
<rect x="1107.3" y="627.8" width="4.6" height="84.2" fill="#54ffff"/>
<rect x="1114.2" y="641.3" width="4.6" height="70.7" fill="#54ffff"/>
<rect x="1121.2" y="624.7" width="4.6" height="87.3" fill="#ff3232"/>
<rect x="1128.1" y="617.2" width="4.6" height="94.8" fill="#ff3232"/>
<rect x="1135" y="606.7" width="4.6" height="105.3" fill="#54ffff"/>
<rect x="1142" y="593.3" width="4.6" height="118.7" fill="#ff3232"/>
<rect x="1148.9" y="610" width="4.6" height="102" fill="#54ffff"/>
<rect x="1155.9" y="626.3" width="4.6" height="85.7" fill="#54ffff"/>
<rect x="1162.8" y="620" width="4.6" height="92" fill="#54ffff"/>
<rect x="1169.8" y="627.8" width="4.6" height="84.2" fill="#54ffff"/>
<rect x="1176.7" y="630.8" width="4.6" height="81.2" fill="#54ffff"/>
<rect x="1183.6" y="620.8" width="4.6" height="91.2" fill="#ff3232"/>
<rect x="1190.6" y="581.3" width="4.6" height="130.7" fill="#ff3232"/>
<rect x="1197.5" y="587.2" width="4.6" height="124.8" fill="#54ffff"/>
<rect x="1204.5" y="602.5" width="4.6" height="109.5" fill="#ff3232"/>
<rect x="1211.4" y="585.8" width="4.6" height="126.2" fill="#ff3232"/>
<rect x="1218.4" y="590" width="4.6" height="122" fill="#ff3232"/>
<rect x="1225.3" y="599.2" width="4.6" height="112.8" fill="#54ffff"/>
<rect x="1232.2" y="615.8" width="4.6" height="96.2" fill="#ff3232"/>
<rect x="1239.2" y="633.7" width="4.6" height="78.3" fill="#54ffff"/>
<rect x="1246.1" y="610.8" width="4.6" height="101.2" fill="#54ffff"/>
<rect x="1253.1" y="641.3" width="4.6" height="70.7" fill="#54ffff"/>
<rect x="1260" y="645.8" width="4.6" height="66.2" fill="#54ffff"/>
<rect x="1266.9" y="635" width="4.6" height="77" fill="#ff3232"/>
<rect x="1273.9" y="629.2" width="4.6" height="82.8" fill="#54ffff"/>
<rect x="1280.8" y="638.3" width="4.6" height="73.7" fill="#ff3232"/>
<rect x="1287.8" y="602.2" width="4.6" height="109.8" fill="#ff3232"/>
<rect x="1294.7" y="623.3" width="4.6" height="88.7" fill="#ff3232"/>
<rect x="1301.7" y="629.2" width="4.6" height="82.8" fill="#ff3232"/>
<rect x="1308.6" y="636.7" width="4.6" height="75.3" fill="#54ffff"/>
<rect x="1315.5" y="653.3" width="4.6" height="58.7" fill="#54ffff"/>
<rect x="1322.5" y="651.7" width="4.6" height="60.3" fill="#54ffff"/>
<rect x="1329.4" y="657.5" width="4.6" height="54.5" fill="#ff3232"/>
<rect x="1336.4" y="656.3" width="4.6" height="55.7" fill="#54ffff"/>
<rect x="1343.3" y="632.2" width="4.6" height="79.8" fill="#ff3232"/>
<rect x="1350.2" y="635.3" width="4.6" height="76.7" fill="#54ffff"/>
<rect x="1357.2" y="650" width="4.6" height="62" fill="#ff3232"/>
<rect x="1364.1" y="650" width="4.6" height="62" fill="#54ffff"/>
<rect x="1371.1" y="655" width="4.6" height="57" fill="#54ffff"/>
<rect x="1378" y="648.8" width="4.6" height="63.2" fill="#54ffff"/>
<rect x="1385" y="650" width="4.6" height="62" fill="#54ffff"/>
<rect x="1391.9" y="660" width="4.6" height="52" fill="#ff3232"/>
<rect x="1398.8" y="638" width="4.6" height="74" fill="#ff3232"/>
<rect x="1405.8" y="655" width="4.6" height="57" fill="#54ffff"/>
<rect x="1412.7" y="639.7" width="4.6" height="72.3" fill="#54ffff"/>
<rect x="1419.7" y="650" width="4.6" height="62" fill="#ff3232"/>
<rect x="1426.6" y="653" width="4.6" height="59" fill="#54ffff"/>
<rect x="1433.6" y="645.8" width="4.6" height="66.2" fill="#ff3232"/>
<rect x="1440.5" y="623.3" width="4.6" height="88.7" fill="#ff3232"/>
<polyline points="5.8,625 12.7,629.7 19.7,628.3 26.6,626.7 33.6,626.5 40.5,624.8 47.5,618.5 54.4,620.4 61.3,621.6 68.3,621.9 75.2,624.5 82.2,631.4 89.1,635.1 96,633.9 103,633.8 109.9,620 116.9,615.3 123.8,610.2 130.8,610.8 137.7,608.5 144.6,621.2 151.6,622.1 158.5,626 165.5,627.5 172.4,630.8 179.4,629.4 186.3,629.3 193.2,629.5 200.2,631.6 207.1,630.3 214.1,632.1 221,633.9 227.9,632.8 234.9,630.3 241.8,632.5 248.8,631.3 255.7,634.6 262.7,637.3 269.6,639.4 276.5,639 283.5,641.2 290.4,642.1 297.4,641.5 304.3,639.7 311.2,641 318.2,642.3 325.1,640.9 332.1,641.7 339,643.9 346,643.2 352.9,644.9 359.8,644.5 366.8,640.9 373.7,639 380.7,636.1 387.6,634.9 394.6,635.8 401.5,639.7 408.4,640.9 415.4,641.3 422.3,639.8 429.3,639.4 436.2,640.9 443.1,642.4 450.1,646 457,647.2 464,647 470.9,647.6 477.9,648.2 484.8,648.2 491.7,649.4 498.7,648.2 505.6,635.5 512.6,632.2 519.5,628.6 526.4,627.8 533.4,630.2 540.3,641 547.3,642.8 554.2,646.4 561.2,646.7 568.1,645.2 575,643.4 582,644 588.9,643.2 595.9,641.7 602.8,643.2 609.8,645.8 616.7,645.7 623.6,643.5 630.6,645.3 637.5,646.8 644.5,648.1 651.4,648.8 658.3,652.6 665.3,649.9 672.2,643 679.2,630.1 686.1,624.7 693.1,618.8 700,618.7 706.9,621.4 713.9,632.8 720.8,634.6 727.8,634 734.7,635.8 741.7,637.6 748.6,634.3 755.5,634.6 762.5,637 769.4,637.6 776.4,638 783.3,642.1 790.2,645.4 797.2,648.8 804.1,649.3 811.1,651.1 818,651 825,653.5 831.9,655.5 838.8,657 845.8,654.7 852.7,653.9 859.7,653.2 866.6,652.4 873.5,651.2 880.5,654.4 887.4,655.3 894.4,654.8 901.3,655.6 908.3,656.1 915.2,655.9 922.1,656.9 929.1,658.3 936,657.5 943,658.5 949.9,660.2 956.9,658.6 963.8,653.2 970.7,653.3 977.7,647.3 984.6,645 991.6,642.7 998.5,644.5 1005.4,641.7 1012.4,642.6 1019.3,641.9 1026.3,644.6 1033.2,637.1 1040.2,633.1 1047.1,636.1 1054,635.9 1061,634.1 1067.9,641.6 1074.9,644 1081.8,634.3 1088.8,628.3 1095.7,625.4 1102.6,621.5 1109.6,620.3 1116.5,628.5 1123.5,629.7 1130.4,627.5 1137.3,623.5 1144.3,616.6 1151.2,610.4 1158.2,610.7 1165.1,611.3 1172.1,615.5 1179,623 1185.9,625.1 1192.9,616.1 1199.8,609.6 1206.8,604.5 1213.7,595.5 1220.7,589.4 1227.6,592.9 1234.5,598.7 1241.5,604.9 1248.4,609.9 1255.4,620.2 1262.3,629.5 1269.2,633.3 1276.2,632.4 1283.1,637.9 1290.1,630.1 1297,625.6 1304,624.4 1310.9,625.9 1317.8,628.9 1324.8,638.8 1331.7,645.7 1338.7,651.1 1345.6,650.2 1352.5,646.6 1359.5,646.3 1366.4,644.8 1373.4,644.5 1380.3,647.8 1387.3,650.8 1394.2,652.8 1401.1,650.4 1408.1,650.4 1415,648.5 1422,648.5 1428.9,647.1 1435.9,648.7 1442.8,642.4" fill="none" stroke="#ffffff" stroke-width="1.1" stroke-linejoin="round" />
<polyline points="5.8,633 12.7,632.7 19.7,631.3 26.6,627 33.6,627 40.5,625.3 47.5,624.7 54.4,623.7 61.3,623.7 68.3,624.2 75.2,624.6 82.2,624.9 89.1,627.8 96,627.8 103,627.9 109.9,622.2 116.9,623.3 123.8,622.7 130.8,622.4 137.7,621.2 144.6,620.6 151.6,618.7 158.5,618.1 165.5,619.2 172.4,619.7 179.4,625.3 186.3,625.7 193.2,627.8 200.2,629.6 207.1,630.6 214.1,630.8 221,631.6 227.9,631.2 234.9,631 241.8,631.4 248.8,631.7 255.7,634.2 262.7,635 269.6,634.9 276.5,635.8 283.5,636.2 290.4,638.3 297.4,639.4 304.3,639.6 311.2,640 318.2,641.7 325.1,641.5 332.1,641.6 339,641.8 346,642.1 352.9,643.6 359.8,642.7 366.8,641.3 373.7,641.5 380.7,639.7 387.6,639.9 394.6,640.1 401.5,640.3 408.4,640 415.4,638.7 422.3,637.4 429.3,637.6 436.2,640.3 443.1,641.7 450.1,643.6 457,643.5 464,643.2 470.9,644.3 477.9,645.3 484.8,647.1 491.7,648.3 498.7,647.6 505.6,641.6 512.6,640.2 519.5,638.4 526.4,638.6 533.4,639.2 540.3,638.2 547.3,637.5 554.2,637.5 561.2,637.2 568.1,637.7 575,642.2 582,643.4 588.9,644.8 595.9,644.2 602.8,644.2 609.8,644.6 616.7,644.9 623.6,643.3 630.6,643.5 637.5,645 644.5,647 651.4,647.2 658.3,648.1 665.3,647.6 672.2,644.9 679.2,639.1 686.1,636.7 693.1,635.7 700,634.3 706.9,632.2 713.9,631.4 720.8,629.7 727.8,626.4 734.7,627.3 741.7,629.5 748.6,633.6 755.5,634.6 762.5,635.5 769.4,636.7 776.4,637.8 783.3,638.2 790.2,640 797.2,642.9 804.1,643.5 811.1,644.5 818,646.6 825,649.5 831.9,652.2 838.8,653.2 845.8,652.9 852.7,652.5 859.7,653.4 866.6,654 873.5,654.1 880.5,654.6 887.4,654.6 894.4,654 901.3,654 908.3,653.6 915.2,655.1 922.1,656.1 929.1,656.5 936,656.5 943,657.3 949.9,658 956.9,657.7 963.8,655.8 970.7,655.4 977.7,652.9 984.6,652.6 991.6,650.6 998.5,648.8 1005.4,647.5 1012.4,645 1019.3,643.5 1026.3,643.6 1033.2,640.8 1040.2,637.4 1047.1,639.3 1054,638.9 1061,639.3 1067.9,639.3 1074.9,638.5 1081.8,635.2 1088.8,632.1 1095.7,629.7 1102.6,631.5 1109.6,632.1 1116.5,631.4 1123.5,629 1130.4,626.4 1137.3,622.5 1144.3,618.5 1151.2,619.4 1158.2,620.2 1165.1,619.4 1172.1,619.5 1179,619.8 1185.9,617.8 1192.9,613.4 1199.8,610.4 1206.8,610 1213.7,609.2 1220.7,607.2 1227.6,604.5 1234.5,604.1 1241.5,604.7 1248.4,602.7 1255.4,604.8 1262.3,611.2 1269.2,616 1276.2,618.7 1283.1,623.9 1290.1,625.1 1297,627.5 1304,628.9 1310.9,629.2 1317.8,633.4 1324.8,634.5 1331.7,635.6 1338.7,637.8 1345.6,638.1 1352.5,637.8 1359.5,642.5 1366.4,645.2 1373.4,647.8 1380.3,649 1387.3,648.7 1394.2,649.5 1401.1,647.6 1408.1,647.4 1415,648.2 1422,649.6 1428.9,650 1435.9,649.5 1442.8,646.4" fill="none" stroke="#ffff00" stroke-width="1.1" stroke-linejoin="round" />
<text x="3.2" y="556.7" fill="#ffffff" font-size="18.2" textLength="75.8" lengthAdjust="spacingAndGlyphs" stroke="#000" stroke-width="0.2" >VOLUME:</text>
<text x="85.1" y="556.7" fill="#ffffff" font-size="18.2" textLength="118.7" lengthAdjust="spacingAndGlyphs" stroke="#000" stroke-width="0.2" >168877664.00</text>
<text x="213.5" y="556.7" fill="#ffffff" font-size="18.2" textLength="36.5" lengthAdjust="spacingAndGlyphs" stroke="#000" stroke-width="0.2" >MA5:</text>
<text x="256" y="556.7" fill="#ffffff" font-size="18.2" textLength="118.8" lengthAdjust="spacingAndGlyphs" stroke="#000" stroke-width="0.2" >131571856.00</text>
<text x="384" y="556.7" fill="#ffff00" font-size="18.2" textLength="46.3" lengthAdjust="spacingAndGlyphs" stroke="#000" stroke-width="0.2" >MA10:</text>
<text x="438.4" y="556.7" fill="#ffff00" font-size="18.2" textLength="117.6" lengthAdjust="spacingAndGlyphs" stroke="#000" stroke-width="0.2" >124090704.00</text>
<polyline points="5.8,806 12.7,805.6 19.7,806 26.6,809 33.6,809 40.5,806 47.5,800 54.4,797 61.3,797 68.3,799 75.2,804 82.2,809 89.1,812 96,815 103,821 109.9,827 116.9,831 123.8,833 130.8,836.4 137.7,837.6 144.6,837.6 151.6,837 158.5,837.6 165.5,835.6 172.4,832 179.4,823 186.3,814 193.2,808 200.2,807.6 207.1,814 214.1,822 221,827 227.9,828 234.9,831.6 241.8,836 248.8,834 255.7,832 262.7,830 269.6,829.6 276.5,828 283.5,825 290.4,822.6 297.4,814 304.3,806 311.2,798 318.2,790 325.1,785 332.1,781 339,778 346,776.4 352.9,780 359.8,779 366.8,777 373.7,775.6 380.7,781 387.6,794 394.6,806 401.5,816 408.4,826 415.4,834 422.3,838 429.3,840 436.2,841.6 443.1,839 450.1,833 457,827 464,826.4 470.9,828 477.9,828 484.8,831 491.7,835 498.7,838.4 505.6,842 512.6,845 519.5,848 526.4,849.6 533.4,850.4 540.3,851.6 547.3,853.6 554.2,855 561.2,853 568.1,853 575,851.6 582,850.2 588.9,850 595.9,848.4 602.8,841 609.8,830.4 616.7,823 623.6,813 630.6,805 637.5,798 644.5,794.4 651.4,794.4 658.3,799 665.3,799.6 672.2,795 679.2,790.4 686.1,785.6 693.1,783 700,782.4 706.9,783.6 713.9,784.4 720.8,789 727.8,798.4 734.7,809 741.7,819 748.6,825 755.5,828 762.5,829 769.4,828 776.4,826 783.3,821.6 790.2,821.6 797.2,824 804.1,830 811.1,833 818,832.4 825,830.4 831.9,828 838.8,824.4 845.8,816 852.7,807.6 859.7,800 866.6,797.6 873.5,800 880.5,805 887.4,809 894.4,816 901.3,823 908.3,830 915.2,837 922.1,841.6 929.1,845 936,845.6 943,844.4 949.9,845.6 956.9,841.6 963.8,833 970.7,822 977.7,811 984.6,802 991.6,794 998.5,790.4 1005.4,786 1012.4,787.6 1019.3,795 1026.3,805 1033.2,815 1040.2,823 1047.1,831 1054,837.6 1061,842 1067.9,846.4 1074.9,848 1081.8,843 1088.8,835.6 1095.7,828 1102.6,821 1109.6,815.6 1116.5,813.6 1123.5,812.6 1130.4,810.4 1137.3,810 1144.3,804 1151.2,798 1158.2,793 1165.1,789.6 1172.1,787.6 1179,790.4 1185.9,793.6 1192.9,794 1199.8,797 1206.8,794 1213.7,790.4 1220.7,787 1227.6,789 1234.5,793 1241.5,798 1248.4,808 1255.4,818 1262.3,827 1269.2,832 1276.2,838 1283.1,841 1290.1,836 1297,825 1304,815 1310.9,810 1317.8,809.6 1324.8,812 1331.7,815.6 1338.7,818 1345.6,817.6 1352.5,821 1359.5,823 1366.4,829 1373.4,835 1380.3,839 1387.3,843.6 1394.2,845 1401.1,846.4 1408.1,846.4 1415,847.6 1422,848 1428.9,849.6 1435.9,850.4 1442.8,845" fill="none" stroke="#ffff00" stroke-width="1.1" stroke-linejoin="round" />
<polyline points="5.8,803 12.7,806 19.7,808 26.6,813 33.6,811 40.5,800 47.5,791 54.4,789 61.3,794 68.3,802 75.2,813 82.2,819 89.1,819 96,822 103,830 109.9,837 116.9,840 123.8,837 130.8,843.6 137.7,840 144.6,837 151.6,835.6 158.5,837.6 165.5,833 172.4,829 179.4,808 186.3,797 193.2,797 200.2,808 207.1,824 214.1,837 221,837 227.9,833 234.9,837 241.8,843 248.8,833 255.7,827 262.7,828.6 269.6,827 276.5,825 283.5,819 290.4,817 297.4,798 304.3,789 311.2,784 318.2,777 325.1,775.6 332.1,773.6 339,770 346,774 352.9,784 359.8,778 366.8,774.4 373.7,772 380.7,791 387.6,816 394.6,828 401.5,834 408.4,844 415.4,852 422.3,846 429.3,845.6 436.2,843 443.1,835 450.1,821 457,814.4 464,825 470.9,833 477.9,828 484.8,836 491.7,842 498.7,846 505.6,849 512.6,849.6 519.5,855 526.4,852 533.4,853 540.3,853 547.3,856.4 554.2,860 561.2,850 568.1,851 575,848 582,847.8 588.9,852 595.9,846 602.8,830 609.8,809 616.7,809.6 623.6,795 630.6,787 637.5,786 644.5,789 651.4,791 658.3,810 665.3,802 672.2,790 679.2,781 686.1,777 693.1,778 700,781 706.9,786 713.9,786.4 720.8,798 727.8,814 734.7,830 741.7,840 748.6,836 755.5,837 762.5,830 769.4,825.6 776.4,824 783.3,812 790.2,821.6 797.2,828 804.1,842 811.1,840 818,831 825,827 831.9,823 838.8,818 845.8,800 852.7,789 859.7,786 866.6,791 873.5,805 880.5,818 887.4,814 894.4,828 901.3,838 908.3,841 915.2,850 922.1,853.6 929.1,855 936,846 943,843 949.9,849 956.9,834 963.8,814 970.7,800 977.7,788 984.6,783 991.6,780.4 998.5,781 1005.4,776 1012.4,792 1019.3,810 1026.3,825 1033.2,836 1040.2,837 1047.1,845 1054,850 1061,852 1067.9,856.4 1074.9,850 1081.8,833 1088.8,821 1095.7,812 1102.6,807 1109.6,804 1116.5,809 1123.5,810 1130.4,805.6 1137.3,805.6 1144.3,792 1151.2,785 1158.2,781.6 1165.1,783 1172.1,784 1179,794.4 1185.9,799.6 1192.9,796 1199.8,803 1206.8,793 1213.7,786 1220.7,778 1227.6,791 1234.5,800 1241.5,806 1248.4,828 1255.4,838 1262.3,846 1269.2,843 1276.2,850.4 1283.1,848 1290.1,824 1297,803 1304,793.6 1310.9,803 1317.8,807 1324.8,818 1331.7,823.6 1338.7,823.6 1345.6,816 1352.5,826 1359.5,830 1366.4,838 1373.4,846 1380.3,849 1387.3,850.4 1394.2,849.6 1401.1,848.4 1408.1,848.4 1415,850 1422,848 1428.9,852 1435.9,854 1442.8,831" fill="none" stroke="#ffffff" stroke-width="1.1" stroke-linejoin="round" />
<polyline points="5.8,796 12.7,807.6 19.7,809 26.6,822 33.6,815 40.5,788 47.5,771.6 54.4,772 61.3,794 68.3,806 75.2,830 82.2,840 89.1,833 96,837 103,848 109.9,857 116.9,860 123.8,848 130.8,856.4 137.7,846 144.6,836 151.6,834 158.5,841.6 165.5,830 172.4,819 179.4,772 186.3,758 193.2,772 200.2,804 207.1,842 214.1,869 221,856 227.9,842 234.9,851 241.8,858 248.8,828 255.7,818 262.7,827.6 269.6,821.6 276.5,818 283.5,805.6 290.4,807.6 297.4,764 304.3,754 311.2,751 318.2,747 325.1,755 332.1,757.6 339,754.4 346,770 352.9,793.6 359.8,773 366.8,769 373.7,766 380.7,808 387.6,856 394.6,873 401.5,877 408.4,883 415.4,888 422.3,864 429.3,855 436.2,844 443.1,824 450.1,798 457,791 464,823 470.9,842 477.9,827 484.8,846 491.7,858 498.7,864 505.6,862 512.6,859.6 519.5,869 526.4,857 533.4,861 540.3,857 547.3,863 554.2,869 561.2,846 568.1,851 575,841 582,841 588.9,855 595.9,840 602.8,796 609.8,766 616.7,782.4 623.6,759 630.6,751.6 637.5,760 644.5,774 651.4,792 658.3,831.6 665.3,798 672.2,773 679.2,760 686.1,757 693.1,770 700,778 706.9,789 713.9,789 720.8,816 727.8,844 734.7,870 741.7,883.6 748.6,858 755.5,854 762.5,832 769.4,819.6 776.4,816 783.3,794.4 790.2,824 797.2,836 804.1,864 811.1,850 818,827 825,821.6 831.9,814 838.8,804 845.8,766 852.7,756 859.7,758 866.6,778 873.5,817 880.5,839 887.4,823 894.4,854 901.3,870 908.3,868.4 915.2,879 922.1,875 929.1,873 936,844 943,838.4 949.9,855 956.9,816 963.8,776 970.7,760 977.7,744 984.6,747 991.6,751 998.5,762 1005.4,756 1012.4,796 1019.3,836 1026.3,860 1033.2,876 1040.2,868 1047.1,873 1054,879 1061,871.6 1067.9,878 1074.9,850 1081.8,806 1088.8,791 1095.7,782 1102.6,778 1109.6,782 1116.5,804 1123.5,808 1130.4,798 1137.3,800 1144.3,769 1151.2,759 1158.2,759 1165.1,768 1172.1,777 1179,806 1185.9,810 1192.9,800 1199.8,815 1206.8,787 1213.7,772 1220.7,760.4 1227.6,794 1234.5,808 1241.5,821 1248.4,860 1255.4,877 1262.3,885 1269.2,866 1276.2,875 1283.1,861 1290.1,792 1297,759 1304,755 1310.9,789 1317.8,806 1324.8,829 1331.7,837 1338.7,833 1345.6,811 1352.5,836 1359.5,843 1366.4,858 1373.4,872 1380.3,868 1387.3,866 1394.2,858 1401.1,850 1408.1,849 1415,853 1422,848 1428.9,857 1435.9,861 1442.8,804" fill="none" stroke="#ff00ff" stroke-width="1.1" stroke-linejoin="round" />
<text x="3.3" y="732.5" fill="#d8d8d8" font-size="18.2" textLength="84" lengthAdjust="spacingAndGlyphs" stroke="#000" stroke-width="0.2" >KDJ(9,3,3)</text>
<text x="97.6" y="732.5" fill="#f0f0f0" font-size="18.2" textLength="13.8" lengthAdjust="spacingAndGlyphs" stroke="#000" stroke-width="0.2" >K:</text>
<text x="118.8" y="732.5" fill="#f0f0f0" font-size="18.2" textLength="43.9" lengthAdjust="spacingAndGlyphs" stroke="#000" stroke-width="0.2" >35.88</text>
<text x="173.4" y="732.5" fill="#ffff00" font-size="18.2" textLength="14.9" lengthAdjust="spacingAndGlyphs" stroke="#000" stroke-width="0.2" >D:</text>
<text x="196" y="732.5" fill="#ffff00" font-size="18.2" textLength="43.5" lengthAdjust="spacingAndGlyphs" stroke="#000" stroke-width="0.2" >23.06</text>
<text x="248.4" y="732.5" fill="#ff00ff" font-size="18.2" textLength="11.2" lengthAdjust="spacingAndGlyphs" stroke="#000" stroke-width="0.2" >J:</text>
<text x="267.4" y="732.5" fill="#ff00ff" font-size="18.2" textLength="41.2" lengthAdjust="spacingAndGlyphs" stroke="#000" stroke-width="0.2" >61.51</text>
<path d="M2.4 448.5 L14.2 466.5 L14.2 510 L2.4 530 Z" fill="#3a3a3a" fill-opacity=".93" stroke="#606060" stroke-width="1.2"/>
<path d="M3.6 481.5 L11 488.3 L3.6 495 Z" fill="#f0a000"/>
</svg></body></html>
